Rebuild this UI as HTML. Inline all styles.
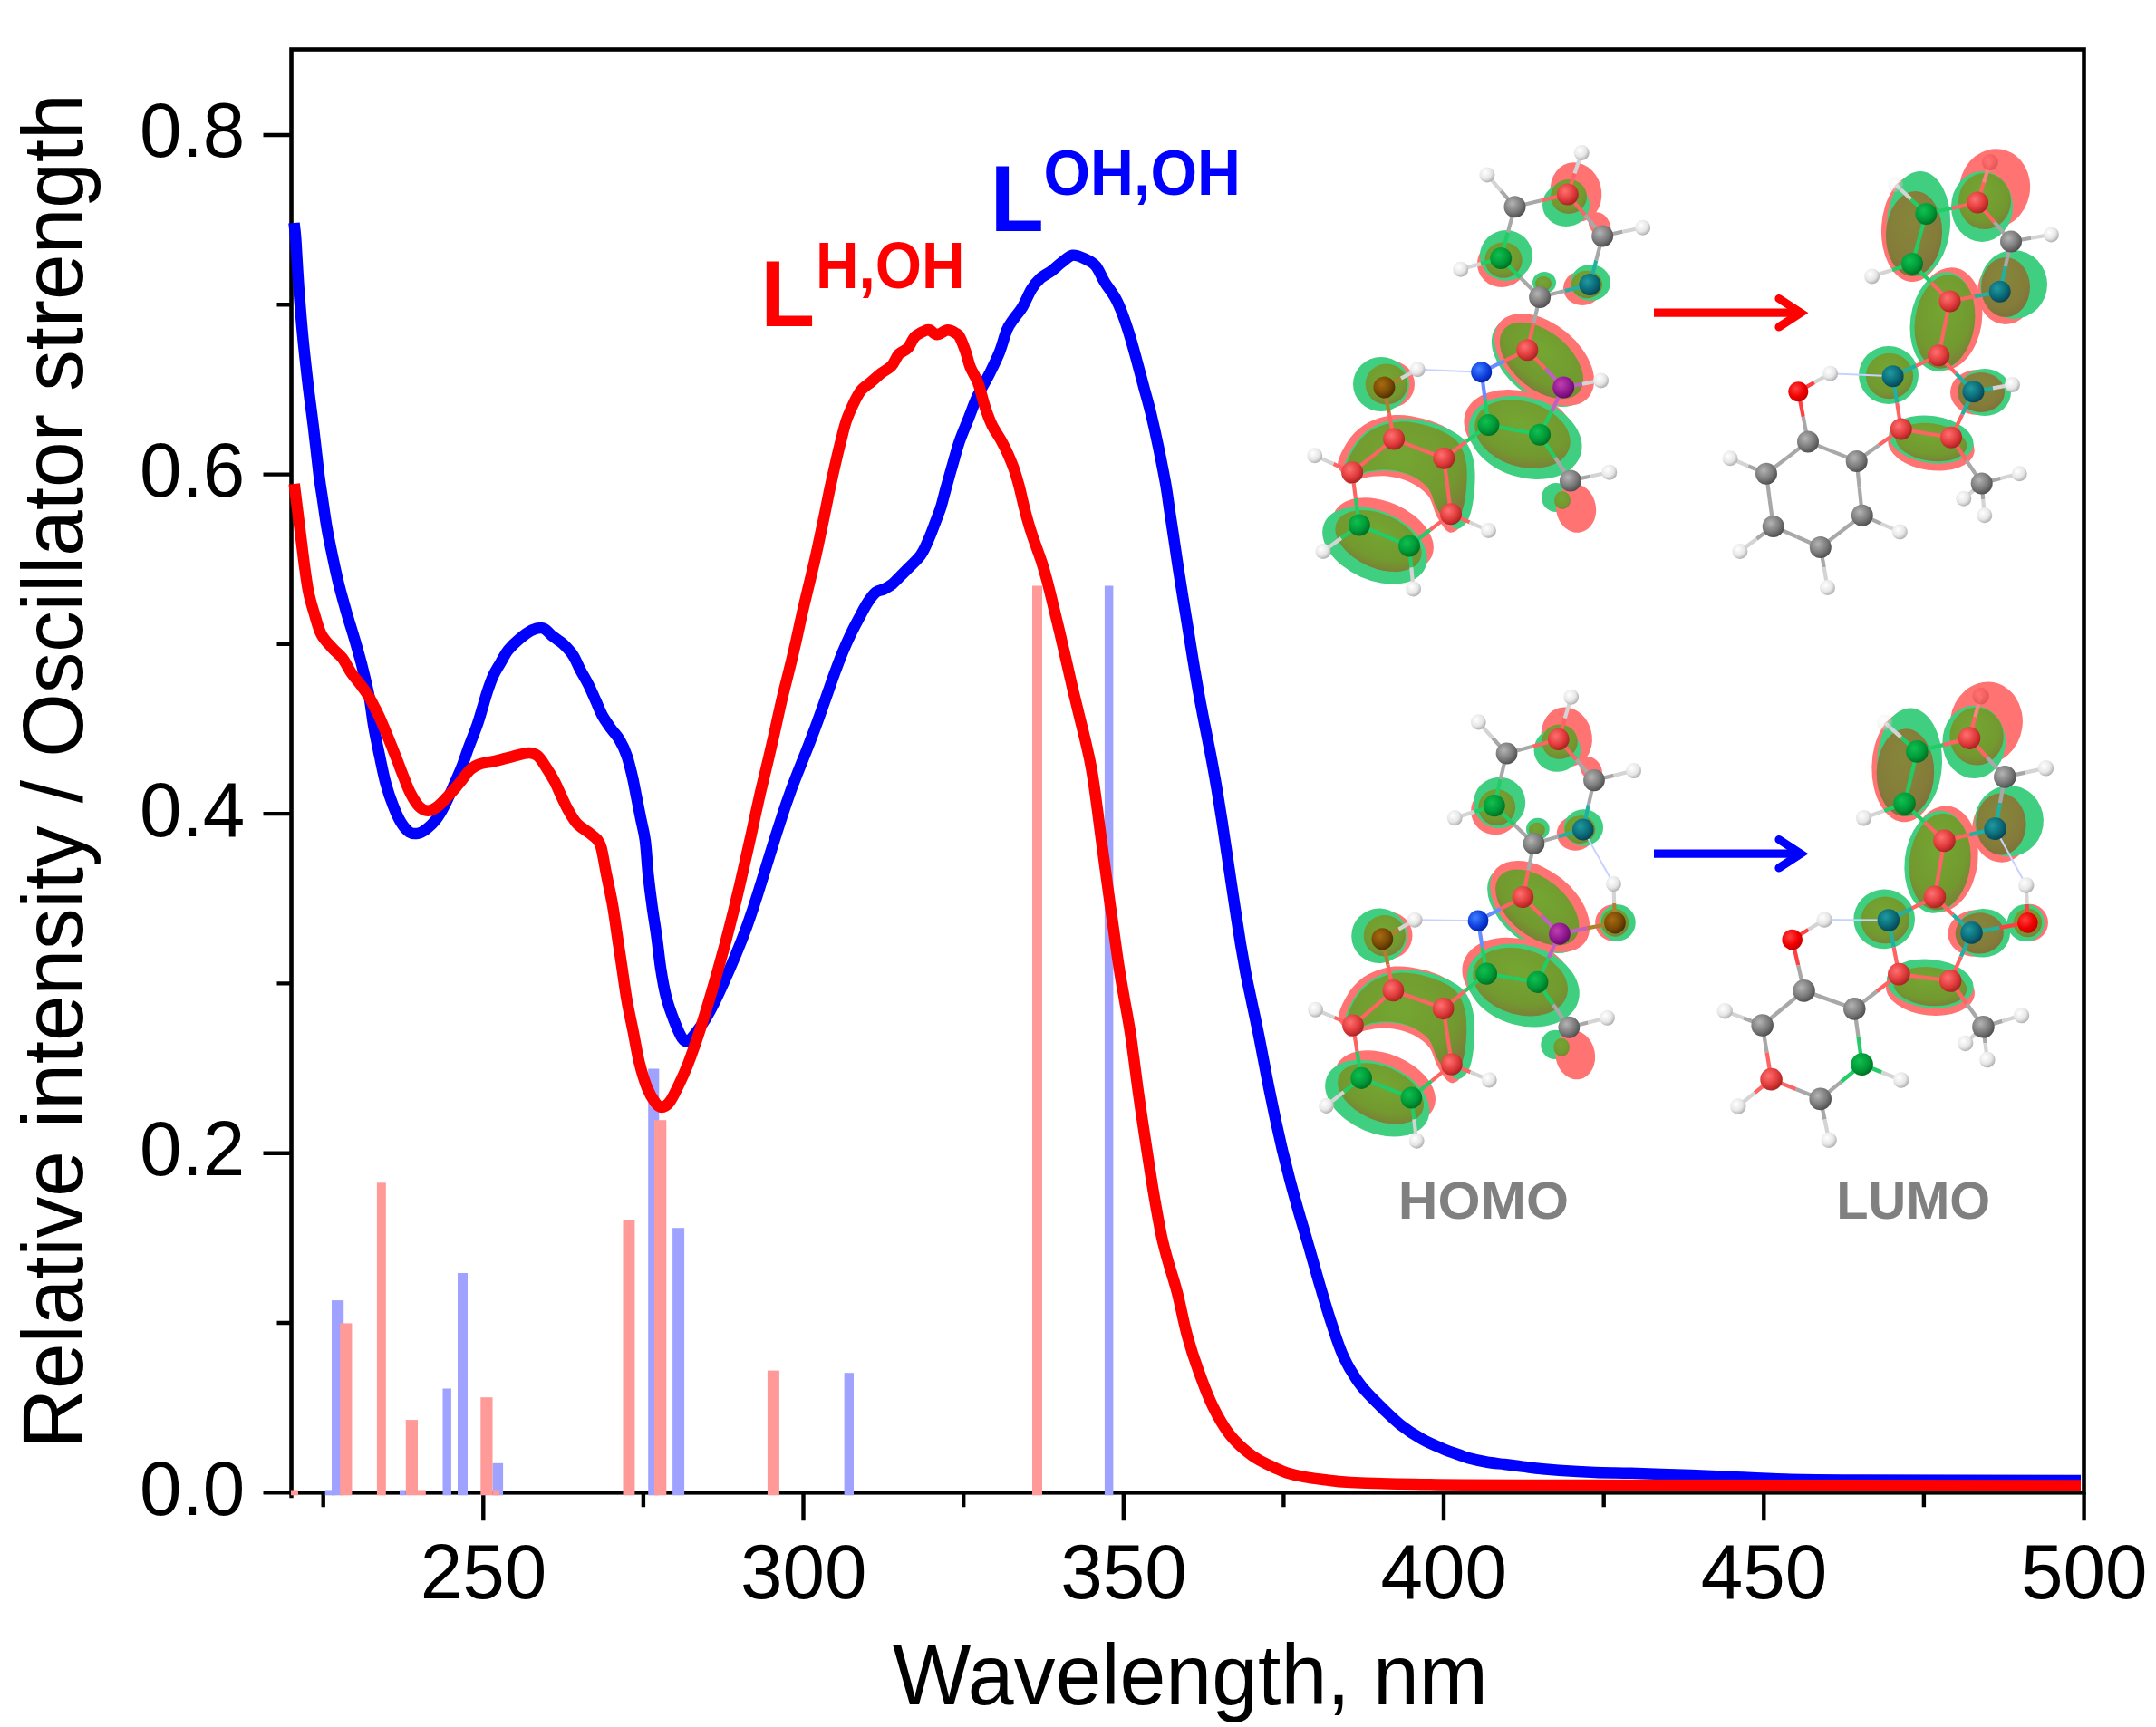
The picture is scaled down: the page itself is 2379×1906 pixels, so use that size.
<!DOCTYPE html><html><head><meta charset="utf-8"><title>Absorption spectra</title><style>html,body{margin:0;padding:0;background:#fff;}svg{display:block;}</style></head><body>
<svg width="2379" height="1906" viewBox="0 0 2379 1906">
<defs>
<radialGradient id="gC" cx="0.38" cy="0.35" r="0.7"><stop offset="0" stop-color="#b4b4b4"/><stop offset="0.6" stop-color="#7a7a7a"/><stop offset="1" stop-color="#4a4a4a"/></radialGradient>
<radialGradient id="gH" cx="0.38" cy="0.35" r="0.7"><stop offset="0" stop-color="#ffffff"/><stop offset="0.6" stop-color="#e6e6e6"/><stop offset="1" stop-color="#a8a8a8"/></radialGradient>
<radialGradient id="gR" cx="0.38" cy="0.35" r="0.7"><stop offset="0" stop-color="#ff7070"/><stop offset="0.6" stop-color="#e03a3a"/><stop offset="1" stop-color="#a02020"/></radialGradient>
<radialGradient id="gG" cx="0.38" cy="0.35" r="0.7"><stop offset="0" stop-color="#10c050"/><stop offset="0.6" stop-color="#009a38"/><stop offset="1" stop-color="#006a20"/></radialGradient>
<radialGradient id="gT" cx="0.38" cy="0.35" r="0.7"><stop offset="0" stop-color="#209aa0"/><stop offset="0.6" stop-color="#0a6a78"/><stop offset="1" stop-color="#064050"/></radialGradient>
<radialGradient id="gN" cx="0.38" cy="0.35" r="0.7"><stop offset="0" stop-color="#4080ff"/><stop offset="0.6" stop-color="#1040e0"/><stop offset="1" stop-color="#0020a0"/></radialGradient>
<radialGradient id="gP" cx="0.38" cy="0.35" r="0.7"><stop offset="0" stop-color="#c040b0"/><stop offset="0.6" stop-color="#901890"/><stop offset="1" stop-color="#600a60"/></radialGradient>
<radialGradient id="gB" cx="0.38" cy="0.35" r="0.7"><stop offset="0" stop-color="#a86a10"/><stop offset="0.6" stop-color="#7a4a05"/><stop offset="1" stop-color="#4a2a00"/></radialGradient>
<radialGradient id="gO" cx="0.38" cy="0.35" r="0.7"><stop offset="0" stop-color="#ff4040"/><stop offset="0.6" stop-color="#f00000"/><stop offset="1" stop-color="#c00000"/></radialGradient>
<radialGradient id="gL" cx="0.45" cy="0.35" r="0.75"><stop offset="0" stop-color="#74a632"/><stop offset="0.65" stop-color="#72992f"/><stop offset="1" stop-color="#80743a"/></radialGradient>
<radialGradient id="gL2" cx="0.45" cy="0.35" r="0.75"><stop offset="0" stop-color="#86863a"/><stop offset="0.65" stop-color="#847c3a"/><stop offset="1" stop-color="#7c6c38"/></radialGradient>
</defs>
<rect x="0" y="0" width="2379" height="1906" fill="#fff"/>
<rect x="321.5" y="54.5" width="1978.0" height="1592.8" fill="none" stroke="#000" stroke-width="4.6"/>
<path d="M290.5,1647.3H321.5 M290.5,1272.7H321.5 M290.5,898.1H321.5 M290.5,523.6H321.5 M290.5,149.0H321.5 M305.5,1460.0H321.5 M305.5,1085.4H321.5 M305.5,710.8H321.5 M305.5,336.3H321.5 M533.3,1647.3V1678.3 M886.5,1647.3V1678.3 M1239.8,1647.3V1678.3 M1593.0,1647.3V1678.3 M1946.3,1647.3V1678.3 M2299.6,1647.3V1678.3 M356.7,1647.3V1663.3 M709.9,1647.3V1663.3 M1063.2,1647.3V1663.3 M1416.4,1647.3V1663.3 M1769.7,1647.3V1663.3 M2122.9,1647.3V1663.3 M321.5,1647.3V1653.3" stroke="#000" stroke-width="4.4" fill="none"/>
<rect x="366.0" y="1435.1" width="13.2" height="215.2" fill="#a0a2ff"/>
<rect x="488.5" y="1532.5" width="9.4" height="117.8" fill="#a0a2ff"/>
<rect x="505.0" y="1405.0" width="11.0" height="245.3" fill="#a0a2ff"/>
<rect x="543.5" y="1614.8" width="11.6" height="35.5" fill="#a0a2ff"/>
<rect x="715.2" y="1179.5" width="12.1" height="470.8" fill="#a0a2ff"/>
<rect x="742.1" y="1355.2" width="13.0" height="295.1" fill="#a0a2ff"/>
<rect x="931.6" y="1515.2" width="10.4" height="135.1" fill="#a0a2ff"/>
<rect x="1218.9" y="646.5" width="9.5" height="1003.8" fill="#a0a2ff"/>
<rect x="358.7" y="1644.5" width="11.0" height="5.8" fill="#a0a2ff"/>
<rect x="441.0" y="1644.5" width="6.8" height="5.8" fill="#a0a2ff"/>
<rect x="375.2" y="1460.4" width="13.2" height="189.9" fill="#ff9a98"/>
<rect x="415.9" y="1305.3" width="9.9" height="345.0" fill="#ff9a98"/>
<rect x="447.8" y="1567.1" width="13.2" height="83.2" fill="#ff9a98"/>
<rect x="530.3" y="1542.2" width="13.2" height="108.1" fill="#ff9a98"/>
<rect x="687.5" y="1346.3" width="12.9" height="304.0" fill="#ff9a98"/>
<rect x="722.0" y="1236.2" width="13.3" height="414.1" fill="#ff9a98"/>
<rect x="846.9" y="1512.6" width="13.0" height="137.7" fill="#ff9a98"/>
<rect x="1139.0" y="646.5" width="11.0" height="1003.8" fill="#ff9a98"/>
<rect x="461.0" y="1644.5" width="8.8" height="5.8" fill="#ff9a98"/>
<rect x="543.5" y="1644.5" width="7.5" height="5.8" fill="#ff9a98"/>
<rect x="321.0" y="1644.5" width="8.0" height="5.8" fill="#ff9a98"/>
<path d="M324.5,246.0 C324.8,249.1 325.5,252.9 326.4,264.7 C327.2,276.5 328.4,299.5 329.6,316.9 C330.9,334.3 332.2,351.6 333.9,369.0 C335.5,386.4 337.5,403.7 339.5,421.1 C341.5,438.5 344.0,455.8 346.1,473.2 C348.2,490.6 350.5,512.3 352.1,525.3 C353.8,538.3 354.6,541.8 356.0,551.3 C357.4,560.8 358.9,572.1 360.7,582.5 C362.5,592.9 364.7,603.4 366.9,613.8 C369.1,624.2 371.3,634.7 373.9,645.1 C376.5,655.5 379.5,666.0 382.5,676.4 C385.5,686.8 388.9,697.2 391.9,707.6 C394.9,718.0 397.9,728.5 400.5,738.9 C403.1,749.3 405.6,759.6 407.6,770.2 C409.6,780.8 410.6,791.9 412.5,802.5 C414.4,813.1 416.6,823.4 418.8,833.8 C421.0,844.2 423.3,856.0 425.8,865.1 C428.3,874.2 430.9,881.6 433.6,888.6 C436.3,895.6 439.2,902.3 442.2,907.3 C445.2,912.2 448.5,916.2 451.6,918.3 C454.7,920.4 457.9,920.3 461.0,919.8 C464.1,919.3 467.0,917.7 470.4,915.1 C473.8,912.5 477.9,908.6 481.3,904.2 C484.7,899.8 487.6,894.6 490.7,888.6 C493.8,882.6 497.0,875.2 500.1,868.2 C503.2,861.2 506.6,853.6 509.5,846.3 C512.4,839.0 514.4,832.1 517.3,824.4 C520.1,816.7 524.1,807.2 526.6,800.0 C529.1,792.8 530.6,787.1 532.4,781.1 C534.2,775.1 535.7,769.5 537.6,763.7 C539.5,757.9 541.6,751.6 544.0,746.3 C546.4,741.0 549.3,736.6 552.1,731.8 C554.9,727.0 557.4,721.7 560.8,717.4 C564.2,713.1 568.0,709.4 572.4,705.8 C576.8,702.1 582.4,697.5 586.9,695.5 C591.4,693.5 595.8,692.5 599.4,693.5 C603.0,694.5 605.1,698.4 608.8,701.3 C612.4,704.2 617.4,707.1 621.3,710.7 C625.2,714.4 629.2,718.5 632.3,723.2 C635.4,727.9 637.2,733.3 640.1,738.8 C643.0,744.3 646.6,750.3 649.5,756.0 C652.4,761.7 654.7,767.5 657.3,773.2 C659.9,778.9 662.2,785.2 665.1,790.4 C668.0,795.6 671.4,800.1 674.5,804.5 C677.6,808.9 681.0,812.0 683.9,817.0 C686.8,822.0 689.4,827.4 691.7,834.2 C694.0,841.0 696.1,849.8 697.9,857.6 C699.7,865.4 701.0,873.3 702.6,881.1 C704.2,888.9 705.7,896.8 707.3,904.6 C708.9,912.4 710.7,918.0 712.0,928.0 C713.3,938.0 714.0,952.9 715.2,964.8 C716.5,976.7 717.9,987.9 719.5,999.5 C721.1,1011.1 723.1,1022.7 724.7,1034.3 C726.3,1045.9 727.4,1058.0 729.1,1069.0 C730.8,1080.0 732.7,1090.8 735.1,1100.3 C737.5,1109.8 740.9,1118.8 743.8,1126.3 C746.7,1133.8 749.9,1141.7 752.5,1145.5 C755.1,1149.3 756.8,1150.1 759.5,1148.9 C762.2,1147.7 765.6,1142.6 768.8,1138.5 C772.0,1134.4 775.3,1129.7 778.7,1124.2 C782.1,1118.6 785.6,1112.0 789.0,1105.0 C792.5,1098.1 796.0,1090.3 799.4,1082.6 C802.9,1074.9 806.4,1066.8 809.8,1058.7 C813.1,1050.7 816.5,1042.7 819.7,1034.3 C822.9,1025.9 826.0,1017.3 829.0,1008.3 C832.1,999.3 835.1,989.6 838.1,980.1 C841.1,970.7 844.1,960.8 847.0,951.4 C849.9,942.0 852.8,932.6 855.6,923.7 C858.5,914.7 861.2,906.0 863.9,897.8 C866.6,889.5 869.3,881.8 872.0,874.3 C874.7,866.9 877.4,860.1 880.1,853.1 C882.8,846.1 885.5,839.6 888.3,832.5 C891.1,825.5 893.9,818.2 896.7,810.7 C899.6,803.3 902.5,795.3 905.2,787.6 C908.0,779.9 910.7,772.0 913.4,764.4 C916.1,756.7 918.7,749.1 921.4,741.7 C924.2,734.2 926.9,726.8 929.8,719.9 C932.7,712.9 935.7,706.2 938.7,699.9 C941.7,693.6 944.8,687.7 947.9,682.0 C951.0,676.2 954.1,669.9 957.2,665.2 C960.3,660.5 963.3,656.1 966.4,653.6 C969.5,651.1 972.6,651.7 975.7,650.1 C978.8,648.5 981.9,646.8 985.0,644.3 C988.1,641.8 991.7,637.6 994.2,635.1 C996.7,632.6 996.5,632.9 1000.0,629.3 C1003.5,625.6 1011.5,618.5 1015.5,613.2 C1019.5,607.9 1021.1,603.1 1023.8,597.3 C1026.5,591.5 1029.0,584.6 1031.4,578.2 C1033.8,571.8 1036.4,565.5 1038.4,559.1 C1040.4,552.7 1041.4,547.7 1043.5,540.0 C1045.6,532.3 1048.5,522.0 1051.1,513.0 C1053.7,504.0 1056.2,494.4 1059.2,485.8 C1062.2,477.2 1065.7,469.6 1068.9,461.5 C1072.1,453.4 1074.8,445.3 1078.6,437.2 C1082.4,429.1 1087.5,421.0 1091.6,412.9 C1095.6,404.8 1099.7,396.7 1102.9,388.6 C1106.1,380.5 1108.4,370.4 1111.0,364.3 C1113.6,358.2 1115.6,356.3 1118.5,352.0 C1121.4,347.7 1125.0,344.2 1128.3,338.7 C1131.6,333.2 1134.9,324.4 1138.2,319.1 C1141.5,313.9 1144.4,310.5 1148.0,307.2 C1151.6,303.9 1155.8,302.3 1159.8,299.4 C1163.8,296.4 1167.8,292.4 1171.7,289.5 C1175.7,286.6 1179.2,282.3 1183.5,281.7 C1187.8,281.1 1192.9,283.6 1197.2,285.6 C1201.5,287.6 1205.5,289.2 1209.1,293.5 C1212.7,297.8 1215.3,305.3 1218.9,311.2 C1222.5,317.1 1227.4,323.0 1230.7,328.9 C1234.0,334.8 1236.0,339.7 1238.6,346.6 C1241.2,353.5 1243.9,361.7 1246.5,370.2 C1249.1,378.7 1251.7,388.3 1254.3,397.8 C1256.9,407.3 1259.6,417.5 1262.2,427.3 C1264.8,437.1 1267.5,446.1 1270.1,456.9 C1272.7,467.7 1275.4,479.8 1278.0,492.3 C1280.6,504.8 1283.7,520.2 1285.8,531.7 C1287.9,543.2 1288.8,551.0 1290.3,561.3 C1291.9,571.6 1293.6,582.6 1295.2,593.6 C1296.8,604.6 1298.5,616.0 1300.2,627.2 C1301.9,638.4 1303.7,649.6 1305.5,660.8 C1307.3,672.0 1309.2,683.2 1311.0,694.4 C1312.8,705.6 1314.6,716.8 1316.4,728.0 C1318.3,739.2 1320.1,750.4 1322.1,761.6 C1324.1,772.8 1326.3,784.5 1328.4,795.2 C1330.5,805.9 1332.7,816.5 1334.5,825.7 C1336.3,834.9 1337.7,842.2 1339.2,850.6 C1340.7,859.0 1342.1,866.7 1343.6,876.1 C1345.2,885.5 1346.9,896.4 1348.6,907.2 C1350.2,918.0 1351.9,929.6 1353.6,940.8 C1355.3,952.0 1356.9,963.2 1358.6,974.4 C1360.3,985.6 1362.0,996.8 1363.7,1008.0 C1365.4,1019.2 1367.1,1030.6 1368.9,1041.6 C1370.8,1052.6 1372.7,1063.6 1374.6,1074.0 C1376.6,1084.4 1378.8,1094.1 1380.9,1104.2 C1383.0,1114.3 1385.2,1124.1 1387.3,1134.6 C1389.5,1145.1 1391.6,1156.2 1393.7,1167.2 C1395.8,1178.2 1398.0,1189.6 1400.2,1200.8 C1402.5,1212.0 1404.8,1223.2 1407.2,1234.4 C1409.6,1245.6 1412.1,1256.8 1414.7,1268.0 C1417.4,1279.2 1420.2,1290.4 1423.1,1301.6 C1426.1,1312.8 1429.4,1324.8 1432.4,1335.2 C1435.3,1345.6 1438.3,1355.2 1440.9,1364.2 C1443.5,1373.2 1445.4,1379.7 1448.0,1389.0 C1450.7,1398.3 1453.5,1408.6 1456.9,1420.1 C1460.3,1431.6 1464.2,1445.3 1468.5,1458.2 C1472.8,1471.1 1477.0,1485.6 1482.5,1497.3 C1488.0,1509.0 1494.5,1519.5 1501.3,1528.6 C1508.1,1537.7 1515.9,1544.7 1523.2,1552.0 C1530.5,1559.3 1537.5,1566.3 1545.1,1572.3 C1552.7,1578.3 1560.8,1583.6 1568.6,1588.0 C1576.4,1592.4 1585.1,1596.0 1592.0,1598.9 C1598.9,1601.8 1605.3,1603.8 1610.0,1605.5 C1614.7,1607.2 1615.0,1607.8 1620.0,1609.1 C1625.0,1610.4 1633.3,1612.3 1640.0,1613.5 C1646.7,1614.7 1653.3,1615.2 1660.0,1616.0 C1666.7,1616.8 1673.3,1617.8 1680.0,1618.6 C1686.7,1619.4 1693.3,1620.3 1700.0,1621.0 C1706.7,1621.7 1710.0,1622.1 1720.0,1622.8 C1730.0,1623.5 1746.7,1624.5 1760.0,1625.0 C1773.3,1625.5 1785.0,1625.4 1800.0,1625.8 C1815.0,1626.2 1833.3,1626.9 1850.0,1627.5 C1866.7,1628.1 1880.0,1628.7 1900.0,1629.5 C1920.0,1630.3 1945.0,1631.8 1970.0,1632.5 C1995.0,1633.2 1995.7,1633.2 2050.0,1633.5 C2104.3,1633.8 2255.0,1633.9 2296.0,1634.0" fill="none" stroke="#0000ff" stroke-width="12.5" stroke-linejoin="round" stroke-linecap="butt"/>
<path d="M324.7,534.0 C325.2,538.2 326.6,549.7 327.8,559.1 C329.0,568.5 330.4,580.0 331.7,590.4 C333.0,600.8 334.2,611.2 335.6,621.6 C337.0,632.0 338.5,643.8 340.3,652.9 C342.1,662.0 344.2,668.6 346.6,676.4 C349.0,684.2 351.0,693.3 354.4,699.8 C357.8,706.3 363.0,711.1 366.9,715.5 C370.8,719.9 374.5,722.0 377.9,726.4 C381.3,730.8 383.8,737.0 387.2,742.0 C390.6,747.0 395.1,751.9 398.2,756.1 C401.3,760.3 403.6,763.3 406.0,767.1 C408.4,770.9 410.4,774.9 412.5,779.0 C414.6,783.1 416.2,785.9 418.8,791.6 C421.4,797.4 425.0,805.9 428.1,813.5 C431.2,821.1 434.6,829.7 437.5,837.0 C440.4,844.3 442.7,850.8 445.3,857.3 C447.9,863.8 450.3,870.5 453.2,876.0 C456.1,881.5 459.4,887.0 462.5,890.1 C465.6,893.2 468.5,894.8 471.9,894.8 C475.3,894.8 479.2,892.7 482.9,890.1 C486.5,887.5 489.9,883.4 493.8,879.2 C497.7,875.0 502.1,870.1 506.3,865.1 C510.5,860.1 514.9,853.1 518.8,849.5 C522.7,845.9 525.4,844.8 529.8,843.2 C534.2,841.6 539.4,841.5 545.4,840.1 C551.4,838.7 559.7,836.3 566.0,834.8 C572.3,833.3 578.9,831.1 583.4,831.0 C587.9,830.9 590.0,831.6 593.2,834.2 C596.4,836.8 599.4,842.0 602.5,846.7 C605.6,851.4 609.0,856.8 611.9,862.3 C614.8,867.8 617.2,874.0 619.8,879.5 C622.4,885.0 624.7,890.2 627.6,895.2 C630.5,900.2 633.4,905.4 637.0,909.3 C640.6,913.2 645.9,915.7 649.5,918.6 C653.1,921.5 656.5,923.6 658.8,926.5 C661.1,929.4 661.8,929.4 663.5,935.8 C665.2,942.2 667.0,954.2 669.1,964.8 C671.2,975.4 674.1,987.9 676.1,999.5 C678.1,1011.1 679.6,1022.7 681.3,1034.3 C683.0,1045.9 684.8,1057.4 686.5,1069.0 C688.2,1080.6 689.7,1092.2 691.7,1103.8 C693.7,1115.4 696.4,1126.9 698.7,1138.5 C701.0,1150.1 703.0,1162.9 705.6,1173.3 C708.2,1183.7 711.4,1193.9 714.3,1201.1 C717.2,1208.3 720.4,1213.2 723.0,1216.7 C725.6,1220.2 727.3,1221.9 729.9,1221.9 C732.5,1221.9 735.4,1220.8 738.6,1216.7 C741.8,1212.6 745.6,1204.6 749.0,1197.4 C752.5,1190.2 756.0,1182.3 759.5,1173.5 C762.9,1164.6 766.4,1154.6 769.9,1144.3 C773.4,1133.9 776.8,1122.8 780.3,1111.3 C783.8,1099.9 787.3,1087.8 790.7,1075.8 C794.1,1063.7 797.7,1050.9 800.8,1039.2 C803.8,1027.6 806.7,1016.2 809.3,1005.9 C811.8,995.6 813.9,986.6 816.1,977.4 C818.2,968.2 820.2,959.6 822.2,950.7 C824.2,941.7 826.3,932.5 828.3,923.7 C830.2,914.9 832.1,906.0 833.9,897.8 C835.7,889.5 837.4,881.8 839.1,874.3 C840.9,866.7 842.6,859.7 844.3,852.7 C846.0,845.6 847.7,838.7 849.3,831.7 C850.9,824.8 852.5,817.8 854.1,810.9 C855.6,804.0 857.1,797.1 858.6,790.3 C860.1,783.5 861.6,776.8 863.2,770.1 C864.8,763.3 866.5,756.7 868.2,750.0 C869.9,743.3 871.6,736.6 873.3,729.6 C875.0,722.5 876.7,715.2 878.4,707.6 C880.1,700.1 881.8,692.0 883.5,684.2 C885.3,676.3 887.1,668.4 889.0,660.6 C890.8,652.9 892.7,645.3 894.5,637.7 C896.3,630.1 898.1,622.7 899.8,615.1 C901.5,607.6 903.1,600.2 904.7,592.4 C906.4,584.7 908.0,577.0 909.7,568.7 C911.4,560.5 913.1,551.8 914.9,543.0 C916.8,534.3 918.7,525.0 920.8,516.1 C922.8,507.3 924.9,498.6 927.0,490.1 C929.2,481.7 931.1,472.8 933.5,465.4 C935.9,458.0 938.9,451.6 941.6,445.9 C944.3,440.2 946.5,435.4 949.7,431.3 C953.0,427.2 957.3,424.8 961.1,421.6 C964.9,418.4 968.6,414.9 972.4,411.9 C976.2,408.9 980.5,407.3 983.8,403.8 C987.0,400.3 988.9,394.1 991.9,390.8 C994.9,387.6 998.6,387.5 1001.6,384.3 C1004.6,381.1 1006.5,374.6 1009.7,371.4 C1013.0,368.2 1018.4,366.1 1021.1,364.9 C1023.8,363.7 1023.9,363.6 1026.0,364.3 C1028.1,365.0 1030.6,369.3 1033.9,369.3 C1037.2,369.3 1042.1,364.5 1045.7,364.3 C1049.3,364.1 1053.2,367.0 1055.5,368.3 C1057.8,369.6 1057.5,369.0 1059.2,372.4 C1060.9,375.8 1063.8,383.2 1065.7,388.6 C1067.6,394.0 1068.3,399.4 1070.5,404.8 C1072.7,410.2 1076.4,415.6 1078.6,421.0 C1080.8,426.4 1081.9,431.8 1083.5,437.2 C1085.1,442.6 1086.4,448.0 1088.3,453.4 C1090.2,458.8 1092.1,464.2 1094.8,469.6 C1097.5,475.0 1101.5,480.4 1104.5,485.8 C1107.5,491.2 1110.2,496.6 1112.6,502.0 C1115.0,507.4 1117.2,512.9 1119.1,518.3 C1121.0,523.7 1122.6,529.6 1124.0,534.5 C1125.4,539.4 1126.2,543.2 1127.2,547.6 C1128.3,552.0 1129.2,556.3 1130.4,560.9 C1131.5,565.5 1132.8,570.4 1134.2,575.3 C1135.6,580.2 1137.1,585.2 1138.8,590.1 C1140.4,595.1 1142.2,599.8 1144.0,605.0 C1145.9,610.2 1147.9,615.5 1149.8,621.5 C1151.7,627.5 1153.4,633.6 1155.3,640.7 C1157.2,647.8 1159.0,655.3 1161.2,664.2 C1163.4,673.2 1166.0,683.8 1168.5,694.4 C1171.0,705.0 1173.7,716.8 1176.3,728.0 C1178.9,739.2 1181.4,750.4 1184.0,761.6 C1186.7,772.8 1189.6,784.7 1192.2,795.2 C1194.8,805.7 1197.3,815.6 1199.3,824.5 C1201.4,833.3 1202.8,839.7 1204.3,848.1 C1205.8,856.5 1207.0,865.0 1208.4,874.8 C1209.8,884.7 1211.3,896.2 1212.7,907.2 C1214.1,918.2 1215.6,929.6 1217.1,940.8 C1218.6,952.0 1220.2,963.2 1221.7,974.4 C1223.2,985.6 1224.8,996.8 1226.3,1008.0 C1227.9,1019.2 1229.4,1030.6 1231.0,1041.6 C1232.5,1052.6 1234.1,1063.6 1235.8,1074.0 C1237.4,1084.4 1239.3,1094.1 1241.0,1104.2 C1242.8,1114.3 1244.7,1124.1 1246.4,1134.6 C1248.1,1145.1 1249.5,1156.2 1251.0,1167.2 C1252.5,1178.2 1253.9,1189.6 1255.4,1200.8 C1256.9,1212.0 1258.6,1223.2 1260.2,1234.4 C1261.9,1245.6 1263.6,1256.8 1265.3,1268.0 C1267.0,1279.2 1268.7,1290.4 1270.5,1301.6 C1272.3,1312.8 1274.3,1324.7 1276.2,1335.2 C1278.1,1345.7 1279.8,1355.2 1281.8,1364.7 C1283.9,1374.2 1285.9,1381.6 1288.8,1391.9 C1291.7,1402.3 1295.6,1413.3 1299.1,1426.9 C1302.6,1440.5 1306.1,1459.5 1310.0,1473.8 C1313.9,1488.1 1317.8,1499.9 1322.5,1512.9 C1327.2,1525.9 1332.5,1540.3 1338.2,1552.0 C1344.0,1563.7 1349.7,1574.2 1357.0,1583.3 C1364.3,1592.4 1373.4,1600.5 1382.0,1606.7 C1390.6,1613.0 1402.3,1617.7 1408.6,1620.8 C1414.9,1623.9 1414.8,1623.9 1420.0,1625.5 C1425.2,1627.1 1433.1,1629.0 1439.8,1630.2 C1446.5,1631.5 1451.6,1632.0 1460.0,1633.0 C1468.4,1634.0 1473.3,1635.2 1490.0,1636.0 C1506.7,1636.8 1525.0,1637.5 1560.0,1638.0 C1595.0,1638.5 1577.3,1638.8 1700.0,1639.0 C1822.7,1639.2 2196.7,1639.4 2296.0,1639.5" fill="none" stroke="#ff0000" stroke-width="12.5" stroke-linejoin="round" stroke-linecap="butt"/>
<g transform="translate(0,0)"><ellipse cx="1739.0" cy="212.0" rx="28.0" ry="33.0" fill="#ff7373" transform="rotate(-15.0 1739.0 212.0)"/><ellipse cx="1765.0" cy="248.0" rx="11.0" ry="15.0" fill="#ff7373" transform="rotate(-35.0 1765.0 248.0)"/><ellipse cx="1728.0" cy="226.0" rx="26.0" ry="24.0" fill="#40cf80"/><ellipse cx="1731.0" cy="217.0" rx="20.0" ry="19.0" fill="url(#gL)"/><ellipse cx="1657.0" cy="291.0" rx="27.0" ry="26.0" fill="#ff7373"/><ellipse cx="1662.0" cy="282.0" rx="29.0" ry="28.0" fill="#40cf80"/><ellipse cx="1659.0" cy="287.0" rx="20.7" ry="19.8" fill="url(#gL)"/><ellipse cx="1703.0" cy="313.0" rx="10.0" ry="9.0" fill="#ff7373"/><ellipse cx="1704.0" cy="312.0" rx="13.0" ry="12.0" fill="#40cf80"/><ellipse cx="1703.0" cy="313.0" rx="9.0" ry="8.1" fill="url(#gL)"/><ellipse cx="1746.0" cy="318.0" rx="21.0" ry="19.0" fill="#ff7373"/><ellipse cx="1755.0" cy="312.0" rx="22.0" ry="20.0" fill="#40cf80"/><ellipse cx="1751.0" cy="314.0" rx="17.1" ry="15.3" fill="url(#gL)"/><ellipse cx="1699.0" cy="400.0" rx="62.0" ry="37.0" fill="#40cf80" transform="rotate(40.0 1699.0 400.0)"/><ellipse cx="1704.0" cy="397.0" rx="64.0" ry="39.0" fill="#ff7373" transform="rotate(40.0 1704.0 397.0)"/><ellipse cx="1701.0" cy="398.0" rx="54.0" ry="31.5" fill="url(#gL)" transform="rotate(40.0 1701.0 398.0)"/><ellipse cx="1534.0" cy="424.0" rx="27.0" ry="26.0" fill="#ff7373"/><ellipse cx="1524.0" cy="424.0" rx="31.0" ry="30.0" fill="#40cf80"/><ellipse cx="1530.0" cy="424.0" rx="23.4" ry="22.5" fill="url(#gL)"/><ellipse cx="1677.0" cy="475.0" rx="63.0" ry="43.0" fill="#ff7373" transform="rotate(17.0 1677.0 475.0)"/><ellipse cx="1683.0" cy="483.0" rx="64.0" ry="44.0" fill="#40cf80" transform="rotate(17.0 1683.0 483.0)"/><ellipse cx="1680.0" cy="479.0" rx="54.0" ry="36.0" fill="url(#gL)" transform="rotate(17.0 1680.0 479.0)"/><path d="M1476.3,510.5 C1477.2,503.7 1484.4,490.5 1490.1,483.0 C1495.9,475.6 1502.4,470.0 1510.7,465.8 C1519.1,461.7 1530.0,458.7 1540.0,458.1 C1550.0,457.5 1561.5,459.9 1571.0,462.3 C1580.5,464.7 1589.9,468.6 1596.7,472.6 C1603.6,476.6 1608.4,480.1 1612.3,486.4 C1616.2,492.7 1618.9,500.8 1620.0,510.5 C1621.2,520.3 1620.4,534.9 1619.1,544.9 C1617.8,554.9 1615.7,564.9 1612.3,570.7 C1608.9,576.4 1603.1,580.8 1598.5,579.3 C1593.9,577.9 1588.7,569.0 1584.7,562.1 C1580.7,555.2 1579.5,544.6 1574.4,538.0 C1569.2,531.4 1561.5,526.3 1553.8,522.6 C1546.1,518.8 1536.5,516.5 1527.9,515.7 C1519.3,514.8 1509.4,516.0 1502.2,517.4 C1495.0,518.8 1489.3,525.4 1485.0,524.2 C1480.7,523.1 1475.5,517.4 1476.3,510.5Z" fill="#ff7373"/><path d="M1480.7,520.6 C1481.5,513.9 1488.5,501.1 1494.1,493.9 C1499.7,486.7 1506.0,481.2 1514.1,477.2 C1522.2,473.2 1532.8,470.3 1542.5,469.7 C1552.2,469.1 1563.4,471.4 1572.6,473.8 C1581.8,476.2 1590.9,479.9 1597.6,483.8 C1604.3,487.7 1608.9,491.1 1612.7,497.2 C1616.5,503.3 1619.1,511.1 1620.2,520.6 C1621.3,530.1 1620.5,544.3 1619.3,554.0 C1618.0,563.7 1616.0,573.4 1612.7,579.0 C1609.4,584.6 1603.8,588.8 1599.3,587.4 C1594.8,586.0 1589.8,577.4 1585.9,570.7 C1582.0,564.0 1580.9,553.7 1575.9,547.3 C1570.9,540.9 1563.4,535.9 1555.9,532.3 C1548.4,528.7 1539.2,526.4 1530.8,525.6 C1522.4,524.8 1512.8,525.9 1505.8,527.3 C1498.8,528.7 1493.3,535.0 1489.1,533.9 C1484.9,532.8 1479.9,527.3 1480.7,520.6Z" fill="#ff7373"/><path d="M1483.3,514.5 C1484.2,507.7 1491.4,494.5 1497.1,487.0 C1502.9,479.6 1509.4,474.0 1517.7,469.8 C1526.1,465.7 1537.0,462.7 1547.0,462.1 C1557.0,461.5 1568.5,463.9 1578.0,466.3 C1587.5,468.7 1596.9,472.6 1603.7,476.6 C1610.6,480.6 1615.4,484.1 1619.3,490.4 C1623.2,496.7 1625.9,504.8 1627.0,514.5 C1628.2,524.3 1627.4,538.9 1626.1,548.9 C1624.8,558.9 1622.7,568.9 1619.3,574.7 C1615.9,580.4 1610.1,584.8 1605.5,583.3 C1600.9,581.9 1595.7,573.0 1591.7,566.1 C1587.7,559.2 1586.5,548.6 1581.4,542.0 C1576.2,535.4 1568.5,530.3 1560.8,526.6 C1553.1,522.8 1543.5,520.5 1534.9,519.7 C1526.3,518.8 1516.4,520.0 1509.2,521.4 C1502.0,522.8 1496.3,529.4 1492.0,528.2 C1487.7,527.1 1482.5,521.4 1483.3,514.5Z" fill="#40cf80"/><path d="M1485.6,513.7 C1486.4,507.4 1493.1,495.2 1498.4,488.4 C1503.7,481.5 1509.7,476.3 1517.4,472.5 C1525.0,468.7 1535.1,465.9 1544.3,465.4 C1553.6,464.8 1564.2,467.0 1572.9,469.3 C1581.7,471.5 1590.3,475.1 1596.7,478.8 C1603.0,482.5 1607.5,485.7 1611.0,491.5 C1614.6,497.3 1617.1,504.7 1618.2,513.7 C1619.2,522.7 1618.5,536.2 1617.3,545.5 C1616.1,554.7 1614.2,563.9 1611.0,569.2 C1607.9,574.5 1602.5,578.5 1598.3,577.2 C1594.1,575.9 1589.3,567.7 1585.6,561.3 C1581.9,555.0 1580.8,545.2 1576.1,539.1 C1571.3,533.0 1564.2,528.3 1557.1,524.8 C1549.9,521.4 1541.2,519.3 1533.2,518.5 C1525.3,517.7 1516.1,518.8 1509.5,520.1 C1502.9,521.4 1497.6,527.4 1493.6,526.4 C1489.6,525.3 1484.8,520.1 1485.6,513.7Z" fill="url(#gL)"/><ellipse cx="1526.0" cy="590.0" rx="59.0" ry="36.0" fill="#ff7373" transform="rotate(24.0 1526.0 590.0)"/><ellipse cx="1517.0" cy="602.0" rx="61.0" ry="38.0" fill="#40cf80" transform="rotate(24.0 1517.0 602.0)"/><ellipse cx="1521.0" cy="597.0" rx="50.4" ry="29.7" fill="url(#gL)" transform="rotate(24.0 1521.0 597.0)"/><ellipse cx="1717.0" cy="549.0" rx="16.0" ry="16.0" fill="#40cf80"/><ellipse cx="1739.0" cy="561.0" rx="22.0" ry="27.0" fill="#ff7373" transform="rotate(-10.0 1739.0 561.0)"/><ellipse cx="1724.0" cy="552.0" rx="9.0" ry="10.0" fill="url(#gL)"/><line x1="1634.7" y1="410.7" x2="1564.2" y2="407.7" stroke="#c8d2ff" stroke-width="2"/><line x1="1671.5" y1="228.2" x2="1656.2" y2="210.6" stroke="#a8a8a8" stroke-width="4.2"/><line x1="1656.2" y1="210.6" x2="1640.9" y2="192.9" stroke="#d4d4d4" stroke-width="4.2"/><line x1="1671.5" y1="228.2" x2="1700.7" y2="221.3" stroke="#a8a8a8" stroke-width="4.2"/><line x1="1700.7" y1="221.3" x2="1729.8" y2="214.4" stroke="#ff6464" stroke-width="4.2"/><line x1="1729.8" y1="214.4" x2="1749.0" y2="237.4" stroke="#ff6464" stroke-width="4.2"/><line x1="1749.0" y1="237.4" x2="1768.2" y2="260.4" stroke="#a8a8a8" stroke-width="4.2"/><line x1="1729.8" y1="214.4" x2="1737.5" y2="191.4" stroke="#ff6464" stroke-width="4.2"/><line x1="1737.5" y1="191.4" x2="1745.2" y2="168.4" stroke="#d4d4d4" stroke-width="4.2"/><line x1="1768.2" y1="260.4" x2="1790.4" y2="255.8" stroke="#a8a8a8" stroke-width="4.2"/><line x1="1790.4" y1="255.8" x2="1812.6" y2="251.2" stroke="#d4d4d4" stroke-width="4.2"/><line x1="1671.5" y1="228.2" x2="1663.8" y2="256.6" stroke="#a8a8a8" stroke-width="4.2"/><line x1="1663.8" y1="256.6" x2="1656.2" y2="285.0" stroke="#22cc66" stroke-width="4.2"/><line x1="1656.2" y1="285.0" x2="1634.0" y2="291.1" stroke="#22cc66" stroke-width="4.2"/><line x1="1634.0" y1="291.1" x2="1611.7" y2="297.2" stroke="#d4d4d4" stroke-width="4.2"/><line x1="1656.2" y1="285.0" x2="1677.7" y2="306.4" stroke="#22cc66" stroke-width="4.2"/><line x1="1677.7" y1="306.4" x2="1699.1" y2="327.9" stroke="#a8a8a8" stroke-width="4.2"/><line x1="1699.1" y1="327.9" x2="1726.8" y2="321.0" stroke="#a8a8a8" stroke-width="4.2"/><line x1="1726.8" y1="321.0" x2="1754.4" y2="314.1" stroke="#22b0a0" stroke-width="4.2"/><line x1="1754.4" y1="314.1" x2="1761.3" y2="287.2" stroke="#22b0a0" stroke-width="4.2"/><line x1="1761.3" y1="287.2" x2="1768.2" y2="260.4" stroke="#a8a8a8" stroke-width="4.2"/><line x1="1699.1" y1="327.9" x2="1692.2" y2="357.0" stroke="#a8a8a8" stroke-width="4.2"/><line x1="1692.2" y1="357.0" x2="1685.3" y2="386.2" stroke="#ff6464" stroke-width="4.2"/><line x1="1685.3" y1="386.2" x2="1660.0" y2="398.4" stroke="#ff6464" stroke-width="4.2"/><line x1="1660.0" y1="398.4" x2="1634.7" y2="410.7" stroke="#6a8cff" stroke-width="4.2"/><line x1="1685.3" y1="386.2" x2="1705.2" y2="406.9" stroke="#ff6464" stroke-width="4.2"/><line x1="1705.2" y1="406.9" x2="1725.2" y2="427.6" stroke="#c060c0" stroke-width="4.2"/><line x1="1634.7" y1="410.7" x2="1638.6" y2="439.9" stroke="#6a8cff" stroke-width="4.2"/><line x1="1638.6" y1="439.9" x2="1642.4" y2="469.0" stroke="#22cc66" stroke-width="4.2"/><line x1="1725.2" y1="427.6" x2="1712.2" y2="453.7" stroke="#c060c0" stroke-width="4.2"/><line x1="1712.2" y1="453.7" x2="1699.1" y2="479.8" stroke="#22cc66" stroke-width="4.2"/><line x1="1725.2" y1="427.6" x2="1745.9" y2="423.8" stroke="#c060c0" stroke-width="4.2"/><line x1="1745.9" y1="423.8" x2="1766.6" y2="419.9" stroke="#d4d4d4" stroke-width="4.2"/><line x1="1642.4" y1="469.0" x2="1670.8" y2="474.4" stroke="#22cc66" stroke-width="4.2"/><line x1="1670.8" y1="474.4" x2="1699.1" y2="479.8" stroke="#22cc66" stroke-width="4.2"/><line x1="1564.2" y1="407.7" x2="1545.8" y2="417.6" stroke="#d4d4d4" stroke-width="4.2"/><line x1="1545.8" y1="417.6" x2="1527.4" y2="427.6" stroke="#b08030" stroke-width="4.2"/><line x1="1527.4" y1="427.6" x2="1532.8" y2="456.0" stroke="#b08030" stroke-width="4.2"/><line x1="1532.8" y1="456.0" x2="1538.1" y2="484.4" stroke="#ff6464" stroke-width="4.2"/><line x1="1538.1" y1="484.4" x2="1565.7" y2="495.1" stroke="#ff6464" stroke-width="4.2"/><line x1="1565.7" y1="495.1" x2="1593.3" y2="505.8" stroke="#ff6464" stroke-width="4.2"/><line x1="1538.1" y1="484.4" x2="1515.1" y2="502.8" stroke="#ff6464" stroke-width="4.2"/><line x1="1515.1" y1="502.8" x2="1492.1" y2="521.2" stroke="#ff6464" stroke-width="4.2"/><line x1="1593.3" y1="505.8" x2="1597.2" y2="536.5" stroke="#ff6464" stroke-width="4.2"/><line x1="1597.2" y1="536.5" x2="1601.0" y2="567.2" stroke="#ff6464" stroke-width="4.2"/><line x1="1593.3" y1="505.8" x2="1617.8" y2="487.4" stroke="#ff6464" stroke-width="4.2"/><line x1="1617.8" y1="487.4" x2="1642.4" y2="469.0" stroke="#22cc66" stroke-width="4.2"/><line x1="1492.1" y1="521.2" x2="1471.4" y2="512.0" stroke="#ff6464" stroke-width="4.2"/><line x1="1471.4" y1="512.0" x2="1450.7" y2="502.8" stroke="#d4d4d4" stroke-width="4.2"/><line x1="1492.1" y1="521.2" x2="1495.9" y2="550.3" stroke="#ff6464" stroke-width="4.2"/><line x1="1495.9" y1="550.3" x2="1499.8" y2="579.4" stroke="#22cc66" stroke-width="4.2"/><line x1="1601.0" y1="567.2" x2="1578.0" y2="584.9" stroke="#ff6464" stroke-width="4.2"/><line x1="1578.0" y1="584.9" x2="1555.0" y2="602.5" stroke="#22cc66" stroke-width="4.2"/><line x1="1601.0" y1="567.2" x2="1621.7" y2="576.4" stroke="#ff6464" stroke-width="4.2"/><line x1="1621.7" y1="576.4" x2="1642.4" y2="585.6" stroke="#d4d4d4" stroke-width="4.2"/><line x1="1499.8" y1="579.4" x2="1527.4" y2="591.0" stroke="#22cc66" stroke-width="4.2"/><line x1="1527.4" y1="591.0" x2="1555.0" y2="602.5" stroke="#22cc66" stroke-width="4.2"/><line x1="1499.8" y1="579.4" x2="1479.8" y2="594.0" stroke="#22cc66" stroke-width="4.2"/><line x1="1479.8" y1="594.0" x2="1459.9" y2="608.6" stroke="#d4d4d4" stroke-width="4.2"/><line x1="1555.0" y1="602.5" x2="1557.3" y2="626.2" stroke="#22cc66" stroke-width="4.2"/><line x1="1557.3" y1="626.2" x2="1559.6" y2="650.0" stroke="#d4d4d4" stroke-width="4.2"/><line x1="1699.1" y1="479.8" x2="1716.0" y2="505.1" stroke="#22cc66" stroke-width="4.2"/><line x1="1716.0" y1="505.1" x2="1732.9" y2="530.4" stroke="#a8a8a8" stroke-width="4.2"/><line x1="1732.9" y1="530.4" x2="1754.3" y2="525.8" stroke="#a8a8a8" stroke-width="4.2"/><line x1="1754.3" y1="525.8" x2="1775.8" y2="521.2" stroke="#d4d4d4" stroke-width="4.2"/><circle cx="1745.2" cy="168.4" r="8.5" fill="url(#gH)"/><circle cx="1640.9" cy="192.9" r="8.5" fill="url(#gH)"/><circle cx="1671.5" cy="228.2" r="12" fill="url(#gC)"/><circle cx="1729.8" cy="214.4" r="12" fill="url(#gR)"/><circle cx="1768.2" cy="260.4" r="12" fill="url(#gC)"/><circle cx="1812.6" cy="251.2" r="8.5" fill="url(#gH)"/><circle cx="1656.2" cy="285.0" r="12" fill="url(#gG)"/><circle cx="1611.7" cy="297.2" r="8.5" fill="url(#gH)"/><circle cx="1699.1" cy="327.9" r="12" fill="url(#gC)"/><circle cx="1754.4" cy="314.1" r="12" fill="url(#gT)"/><circle cx="1685.3" cy="386.2" r="12" fill="url(#gR)"/><circle cx="1634.7" cy="410.7" r="11.5" fill="url(#gN)"/><circle cx="1564.2" cy="407.7" r="8.5" fill="url(#gH)"/><circle cx="1527.4" cy="427.6" r="12" fill="url(#gB)"/><circle cx="1725.2" cy="427.6" r="12" fill="url(#gP)"/><circle cx="1766.6" cy="419.9" r="8.5" fill="url(#gH)"/><circle cx="1642.4" cy="469.0" r="12" fill="url(#gG)"/><circle cx="1699.1" cy="479.8" r="12" fill="url(#gG)"/><circle cx="1538.1" cy="484.4" r="12" fill="url(#gR)"/><circle cx="1593.3" cy="505.8" r="12" fill="url(#gR)"/><circle cx="1450.7" cy="502.8" r="8.5" fill="url(#gH)"/><circle cx="1492.1" cy="521.2" r="12" fill="url(#gR)"/><circle cx="1732.9" cy="530.4" r="12" fill="url(#gC)"/><circle cx="1775.8" cy="521.2" r="8.5" fill="url(#gH)"/><circle cx="1601.0" cy="567.2" r="12" fill="url(#gR)"/><circle cx="1642.4" cy="585.6" r="8.5" fill="url(#gH)"/><circle cx="1499.8" cy="579.4" r="12" fill="url(#gG)"/><circle cx="1555.0" cy="602.5" r="12" fill="url(#gG)"/><circle cx="1459.9" cy="608.6" r="8.5" fill="url(#gH)"/><circle cx="1559.6" cy="650.0" r="8.5" fill="url(#gH)"/></g><g transform="translate(0,0)"><ellipse cx="2112.0" cy="252.0" rx="36.0" ry="59.0" fill="#ff7373" transform="rotate(3.0 2112.0 252.0)"/><ellipse cx="2117.0" cy="247.0" rx="35.0" ry="58.0" fill="#40cf80" transform="rotate(3.0 2117.0 247.0)"/><ellipse cx="2112.0" cy="258.0" rx="31.0" ry="47.0" fill="url(#gL2)" transform="rotate(3.0 2112.0 258.0)"/><ellipse cx="2201.0" cy="208.0" rx="39.0" ry="44.0" fill="#ff7373" transform="rotate(10.0 2201.0 208.0)"/><ellipse cx="2187.0" cy="228.0" rx="34.0" ry="39.0" fill="#40cf80"/><ellipse cx="2190.0" cy="222.0" rx="29.0" ry="31.0" fill="url(#gL)"/><ellipse cx="2149.0" cy="352.0" rx="38.0" ry="57.0" fill="#ff7373" transform="rotate(8.0 2149.0 352.0)"/><ellipse cx="2143.0" cy="355.0" rx="35.0" ry="55.0" fill="#40cf80" transform="rotate(8.0 2143.0 355.0)"/><ellipse cx="2146.0" cy="355.0" rx="33.0" ry="52.0" fill="url(#gL)" transform="rotate(8.0 2146.0 355.0)"/><ellipse cx="2213.0" cy="322.0" rx="31.0" ry="36.0" fill="#ff7373"/><ellipse cx="2222.0" cy="314.0" rx="37.0" ry="38.0" fill="#40cf80"/><ellipse cx="2213.0" cy="317.0" rx="27.0" ry="33.0" fill="url(#gL2)"/><ellipse cx="2085.0" cy="415.0" rx="30.0" ry="29.0" fill="#ff7373"/><ellipse cx="2084.0" cy="414.0" rx="33.0" ry="32.0" fill="#40cf80"/><ellipse cx="2085.0" cy="415.0" rx="26.1" ry="25.2" fill="url(#gL)"/><ellipse cx="2182.0" cy="433.0" rx="30.0" ry="25.0" fill="#ff7373"/><ellipse cx="2190.0" cy="433.0" rx="29.0" ry="26.0" fill="#40cf80"/><ellipse cx="2186.0" cy="433.0" rx="26.0" ry="22.0" fill="url(#gL2)"/><ellipse cx="2131.0" cy="492.0" rx="48.0" ry="27.0" fill="#ff7373" transform="rotate(8.0 2131.0 492.0)"/><ellipse cx="2131.0" cy="485.0" rx="47.0" ry="26.0" fill="#40cf80" transform="rotate(8.0 2131.0 485.0)"/><ellipse cx="2131.0" cy="488.0" rx="39.6" ry="20.7" fill="url(#gL)" transform="rotate(8.0 2131.0 488.0)"/><line x1="2088.6" y1="415.3" x2="2019.6" y2="412.3" stroke="#c8d2ff" stroke-width="2"/><line x1="2091.7" y1="203.7" x2="2108.6" y2="219.8" stroke="#d4d4d4" stroke-width="4.2"/><line x1="2108.6" y1="219.8" x2="2125.4" y2="235.9" stroke="#22cc66" stroke-width="4.2"/><line x1="2125.4" y1="235.9" x2="2117.7" y2="263.5" stroke="#22cc66" stroke-width="4.2"/><line x1="2117.7" y1="263.5" x2="2110.0" y2="291.1" stroke="#22cc66" stroke-width="4.2"/><line x1="2125.4" y1="235.9" x2="2153.8" y2="229.8" stroke="#22cc66" stroke-width="4.2"/><line x1="2153.8" y1="229.8" x2="2182.1" y2="223.6" stroke="#ff6464" stroke-width="4.2"/><line x1="2182.1" y1="223.6" x2="2189.0" y2="201.3" stroke="#ff6464" stroke-width="4.2"/><line x1="2189.0" y1="201.3" x2="2195.9" y2="179.1" stroke="#ff8080" stroke-width="4.2"/><line x1="2182.1" y1="223.6" x2="2200.6" y2="245.1" stroke="#ff6464" stroke-width="4.2"/><line x1="2200.6" y1="245.1" x2="2219.0" y2="266.6" stroke="#a8a8a8" stroke-width="4.2"/><line x1="2219.0" y1="266.6" x2="2241.2" y2="262.8" stroke="#a8a8a8" stroke-width="4.2"/><line x1="2241.2" y1="262.8" x2="2263.4" y2="258.9" stroke="#d4d4d4" stroke-width="4.2"/><line x1="2219.0" y1="266.6" x2="2212.8" y2="294.2" stroke="#a8a8a8" stroke-width="4.2"/><line x1="2212.8" y1="294.2" x2="2206.7" y2="321.8" stroke="#22b0a0" stroke-width="4.2"/><line x1="2110.0" y1="291.1" x2="2087.8" y2="298.0" stroke="#22cc66" stroke-width="4.2"/><line x1="2087.8" y1="298.0" x2="2065.6" y2="304.9" stroke="#d4d4d4" stroke-width="4.2"/><line x1="2110.0" y1="291.1" x2="2130.8" y2="311.8" stroke="#22cc66" stroke-width="4.2"/><line x1="2130.8" y1="311.8" x2="2151.5" y2="332.5" stroke="#ff6464" stroke-width="4.2"/><line x1="2151.5" y1="332.5" x2="2179.1" y2="327.1" stroke="#ff6464" stroke-width="4.2"/><line x1="2179.1" y1="327.1" x2="2206.7" y2="321.8" stroke="#22b0a0" stroke-width="4.2"/><line x1="2151.5" y1="332.5" x2="2145.3" y2="362.4" stroke="#ff6464" stroke-width="4.2"/><line x1="2145.3" y1="362.4" x2="2139.2" y2="392.3" stroke="#ff6464" stroke-width="4.2"/><line x1="2139.2" y1="392.3" x2="2113.9" y2="403.8" stroke="#ff6464" stroke-width="4.2"/><line x1="2113.9" y1="403.8" x2="2088.6" y2="415.3" stroke="#22b0a0" stroke-width="4.2"/><line x1="2139.2" y1="392.3" x2="2158.3" y2="412.2" stroke="#ff6464" stroke-width="4.2"/><line x1="2158.3" y1="412.2" x2="2177.5" y2="432.2" stroke="#22b0a0" stroke-width="4.2"/><line x1="2019.6" y1="412.3" x2="2001.9" y2="422.2" stroke="#d4d4d4" stroke-width="4.2"/><line x1="2001.9" y1="422.2" x2="1984.3" y2="432.2" stroke="#ff4040" stroke-width="4.2"/><line x1="1984.3" y1="432.2" x2="1989.7" y2="459.8" stroke="#ff4040" stroke-width="4.2"/><line x1="1989.7" y1="459.8" x2="1995.0" y2="487.4" stroke="#a8a8a8" stroke-width="4.2"/><line x1="2088.6" y1="415.3" x2="2093.2" y2="444.5" stroke="#22b0a0" stroke-width="4.2"/><line x1="2093.2" y1="444.5" x2="2097.8" y2="473.6" stroke="#ff6464" stroke-width="4.2"/><line x1="2097.8" y1="473.6" x2="2125.4" y2="478.2" stroke="#ff6464" stroke-width="4.2"/><line x1="2125.4" y1="478.2" x2="2153.0" y2="482.8" stroke="#ff6464" stroke-width="4.2"/><line x1="2177.5" y1="432.2" x2="2165.2" y2="457.5" stroke="#22b0a0" stroke-width="4.2"/><line x1="2165.2" y1="457.5" x2="2153.0" y2="482.8" stroke="#ff6464" stroke-width="4.2"/><line x1="2177.5" y1="432.2" x2="2199.0" y2="428.4" stroke="#22b0a0" stroke-width="4.2"/><line x1="2199.0" y1="428.4" x2="2220.5" y2="424.5" stroke="#d4d4d4" stroke-width="4.2"/><line x1="2153.0" y1="482.8" x2="2169.8" y2="508.1" stroke="#ff6464" stroke-width="4.2"/><line x1="2169.8" y1="508.1" x2="2186.7" y2="533.4" stroke="#a8a8a8" stroke-width="4.2"/><line x1="2186.7" y1="533.4" x2="2207.4" y2="528.0" stroke="#a8a8a8" stroke-width="4.2"/><line x1="2207.4" y1="528.0" x2="2228.2" y2="522.7" stroke="#d4d4d4" stroke-width="4.2"/><line x1="2186.7" y1="533.4" x2="2176.8" y2="541.8" stroke="#a8a8a8" stroke-width="4.2"/><line x1="2176.8" y1="541.8" x2="2166.8" y2="550.3" stroke="#d4d4d4" stroke-width="4.2"/><line x1="2186.7" y1="533.4" x2="2188.2" y2="551.0" stroke="#a8a8a8" stroke-width="4.2"/><line x1="2188.2" y1="551.0" x2="2189.8" y2="568.7" stroke="#d4d4d4" stroke-width="4.2"/><line x1="2097.8" y1="473.6" x2="2073.2" y2="491.2" stroke="#ff6464" stroke-width="4.2"/><line x1="2073.2" y1="491.2" x2="2048.7" y2="508.9" stroke="#a8a8a8" stroke-width="4.2"/><line x1="2048.7" y1="508.9" x2="2021.8" y2="498.1" stroke="#a8a8a8" stroke-width="4.2"/><line x1="2021.8" y1="498.1" x2="1995.0" y2="487.4" stroke="#a8a8a8" stroke-width="4.2"/><line x1="1995.0" y1="487.4" x2="1972.0" y2="505.1" stroke="#a8a8a8" stroke-width="4.2"/><line x1="1972.0" y1="505.1" x2="1949.0" y2="522.7" stroke="#a8a8a8" stroke-width="4.2"/><line x1="1949.0" y1="522.7" x2="1929.0" y2="514.2" stroke="#a8a8a8" stroke-width="4.2"/><line x1="1929.0" y1="514.2" x2="1909.1" y2="505.8" stroke="#d4d4d4" stroke-width="4.2"/><line x1="1949.0" y1="522.7" x2="1952.8" y2="551.9" stroke="#a8a8a8" stroke-width="4.2"/><line x1="1952.8" y1="551.9" x2="1956.7" y2="581.0" stroke="#a8a8a8" stroke-width="4.2"/><line x1="1956.7" y1="581.0" x2="1938.3" y2="594.8" stroke="#a8a8a8" stroke-width="4.2"/><line x1="1938.3" y1="594.8" x2="1919.9" y2="608.6" stroke="#d4d4d4" stroke-width="4.2"/><line x1="1956.7" y1="581.0" x2="1982.8" y2="592.5" stroke="#a8a8a8" stroke-width="4.2"/><line x1="1982.8" y1="592.5" x2="2008.8" y2="604.0" stroke="#a8a8a8" stroke-width="4.2"/><line x1="2008.8" y1="604.0" x2="2031.8" y2="586.4" stroke="#a8a8a8" stroke-width="4.2"/><line x1="2031.8" y1="586.4" x2="2054.8" y2="568.7" stroke="#a8a8a8" stroke-width="4.2"/><line x1="2008.8" y1="604.0" x2="2012.7" y2="626.2" stroke="#a8a8a8" stroke-width="4.2"/><line x1="2012.7" y1="626.2" x2="2016.5" y2="648.5" stroke="#d4d4d4" stroke-width="4.2"/><line x1="2054.8" y1="568.7" x2="2051.8" y2="538.8" stroke="#a8a8a8" stroke-width="4.2"/><line x1="2051.8" y1="538.8" x2="2048.7" y2="508.9" stroke="#a8a8a8" stroke-width="4.2"/><line x1="2054.8" y1="568.7" x2="2075.6" y2="577.9" stroke="#a8a8a8" stroke-width="4.2"/><line x1="2075.6" y1="577.9" x2="2096.3" y2="587.1" stroke="#d4d4d4" stroke-width="4.2"/><circle cx="2195.9" cy="179.1" r="9" fill="url(#gR)" opacity="0.35"/><circle cx="2091.7" cy="203.7" r="8.5" fill="url(#gH)" opacity="0.35"/><circle cx="2125.4" cy="235.9" r="12" fill="url(#gG)"/><circle cx="2182.1" cy="223.6" r="12" fill="url(#gR)"/><circle cx="2219.0" cy="266.6" r="12" fill="url(#gC)"/><circle cx="2263.4" cy="258.9" r="8.5" fill="url(#gH)"/><circle cx="2110.0" cy="291.1" r="12" fill="url(#gG)"/><circle cx="2065.6" cy="304.9" r="8.5" fill="url(#gH)"/><circle cx="2151.5" cy="332.5" r="12" fill="url(#gR)"/><circle cx="2206.7" cy="321.8" r="12" fill="url(#gT)"/><circle cx="2139.2" cy="392.3" r="12" fill="url(#gR)"/><circle cx="2088.6" cy="415.3" r="12" fill="url(#gT)"/><circle cx="2019.6" cy="412.3" r="8.5" fill="url(#gH)"/><circle cx="1984.3" cy="432.2" r="11" fill="url(#gO)"/><circle cx="2177.5" cy="432.2" r="12" fill="url(#gT)"/><circle cx="2220.5" cy="424.5" r="8.5" fill="url(#gH)"/><circle cx="2097.8" cy="473.6" r="12" fill="url(#gR)"/><circle cx="2153.0" cy="482.8" r="12" fill="url(#gR)"/><circle cx="1995.0" cy="487.4" r="12" fill="url(#gC)"/><circle cx="2048.7" cy="508.9" r="12" fill="url(#gC)"/><circle cx="1909.1" cy="505.8" r="8.5" fill="url(#gH)"/><circle cx="1949.0" cy="522.7" r="12" fill="url(#gC)"/><circle cx="2186.7" cy="533.4" r="12" fill="url(#gC)"/><circle cx="2228.2" cy="522.7" r="8.5" fill="url(#gH)"/><circle cx="2166.8" cy="550.3" r="8.5" fill="url(#gH)"/><circle cx="2189.8" cy="568.7" r="8.5" fill="url(#gH)"/><circle cx="2054.8" cy="568.7" r="12" fill="url(#gC)"/><circle cx="2096.3" cy="587.1" r="8.5" fill="url(#gH)"/><circle cx="1956.7" cy="581.0" r="12" fill="url(#gC)"/><circle cx="1919.9" cy="608.6" r="8.5" fill="url(#gH)"/><circle cx="2008.8" cy="604.0" r="12" fill="url(#gC)"/><circle cx="2016.5" cy="648.5" r="8.5" fill="url(#gH)"/></g><g transform="matrix(0.98878,-0.02899,0.02683,1.00610,3.616,650.370)"><ellipse cx="1739.0" cy="212.0" rx="28.0" ry="33.0" fill="#ff7373" transform="rotate(-15.0 1739.0 212.0)"/><ellipse cx="1765.0" cy="248.0" rx="11.0" ry="15.0" fill="#ff7373" transform="rotate(-35.0 1765.0 248.0)"/><ellipse cx="1728.0" cy="226.0" rx="26.0" ry="24.0" fill="#40cf80"/><ellipse cx="1731.0" cy="217.0" rx="20.0" ry="19.0" fill="url(#gL)"/><ellipse cx="1657.0" cy="291.0" rx="27.0" ry="26.0" fill="#ff7373"/><ellipse cx="1662.0" cy="282.0" rx="29.0" ry="28.0" fill="#40cf80"/><ellipse cx="1659.0" cy="287.0" rx="20.7" ry="19.8" fill="url(#gL)"/><ellipse cx="1703.0" cy="313.0" rx="10.0" ry="9.0" fill="#ff7373"/><ellipse cx="1704.0" cy="312.0" rx="13.0" ry="12.0" fill="#40cf80"/><ellipse cx="1703.0" cy="313.0" rx="9.0" ry="8.1" fill="url(#gL)"/><ellipse cx="1746.0" cy="318.0" rx="21.0" ry="19.0" fill="#ff7373"/><ellipse cx="1755.0" cy="312.0" rx="22.0" ry="20.0" fill="#40cf80"/><ellipse cx="1751.0" cy="314.0" rx="17.1" ry="15.3" fill="url(#gL)"/><ellipse cx="1699.0" cy="400.0" rx="62.0" ry="37.0" fill="#40cf80" transform="rotate(40.0 1699.0 400.0)"/><ellipse cx="1704.0" cy="397.0" rx="64.0" ry="39.0" fill="#ff7373" transform="rotate(40.0 1704.0 397.0)"/><ellipse cx="1701.0" cy="398.0" rx="54.0" ry="31.5" fill="url(#gL)" transform="rotate(40.0 1701.0 398.0)"/><ellipse cx="1534.0" cy="424.0" rx="27.0" ry="26.0" fill="#ff7373"/><ellipse cx="1524.0" cy="424.0" rx="31.0" ry="30.0" fill="#40cf80"/><ellipse cx="1530.0" cy="424.0" rx="23.4" ry="22.5" fill="url(#gL)"/><ellipse cx="1677.0" cy="475.0" rx="63.0" ry="43.0" fill="#ff7373" transform="rotate(17.0 1677.0 475.0)"/><ellipse cx="1683.0" cy="483.0" rx="64.0" ry="44.0" fill="#40cf80" transform="rotate(17.0 1683.0 483.0)"/><ellipse cx="1680.0" cy="479.0" rx="54.0" ry="36.0" fill="url(#gL)" transform="rotate(17.0 1680.0 479.0)"/><path d="M1476.3,510.5 C1477.2,503.7 1484.4,490.5 1490.1,483.0 C1495.9,475.6 1502.4,470.0 1510.7,465.8 C1519.1,461.7 1530.0,458.7 1540.0,458.1 C1550.0,457.5 1561.5,459.9 1571.0,462.3 C1580.5,464.7 1589.9,468.6 1596.7,472.6 C1603.6,476.6 1608.4,480.1 1612.3,486.4 C1616.2,492.7 1618.9,500.8 1620.0,510.5 C1621.2,520.3 1620.4,534.9 1619.1,544.9 C1617.8,554.9 1615.7,564.9 1612.3,570.7 C1608.9,576.4 1603.1,580.8 1598.5,579.3 C1593.9,577.9 1588.7,569.0 1584.7,562.1 C1580.7,555.2 1579.5,544.6 1574.4,538.0 C1569.2,531.4 1561.5,526.3 1553.8,522.6 C1546.1,518.8 1536.5,516.5 1527.9,515.7 C1519.3,514.8 1509.4,516.0 1502.2,517.4 C1495.0,518.8 1489.3,525.4 1485.0,524.2 C1480.7,523.1 1475.5,517.4 1476.3,510.5Z" fill="#ff7373"/><path d="M1480.7,520.6 C1481.5,513.9 1488.5,501.1 1494.1,493.9 C1499.7,486.7 1506.0,481.2 1514.1,477.2 C1522.2,473.2 1532.8,470.3 1542.5,469.7 C1552.2,469.1 1563.4,471.4 1572.6,473.8 C1581.8,476.2 1590.9,479.9 1597.6,483.8 C1604.3,487.7 1608.9,491.1 1612.7,497.2 C1616.5,503.3 1619.1,511.1 1620.2,520.6 C1621.3,530.1 1620.5,544.3 1619.3,554.0 C1618.0,563.7 1616.0,573.4 1612.7,579.0 C1609.4,584.6 1603.8,588.8 1599.3,587.4 C1594.8,586.0 1589.8,577.4 1585.9,570.7 C1582.0,564.0 1580.9,553.7 1575.9,547.3 C1570.9,540.9 1563.4,535.9 1555.9,532.3 C1548.4,528.7 1539.2,526.4 1530.8,525.6 C1522.4,524.8 1512.8,525.9 1505.8,527.3 C1498.8,528.7 1493.3,535.0 1489.1,533.9 C1484.9,532.8 1479.9,527.3 1480.7,520.6Z" fill="#ff7373"/><path d="M1483.3,514.5 C1484.2,507.7 1491.4,494.5 1497.1,487.0 C1502.9,479.6 1509.4,474.0 1517.7,469.8 C1526.1,465.7 1537.0,462.7 1547.0,462.1 C1557.0,461.5 1568.5,463.9 1578.0,466.3 C1587.5,468.7 1596.9,472.6 1603.7,476.6 C1610.6,480.6 1615.4,484.1 1619.3,490.4 C1623.2,496.7 1625.9,504.8 1627.0,514.5 C1628.2,524.3 1627.4,538.9 1626.1,548.9 C1624.8,558.9 1622.7,568.9 1619.3,574.7 C1615.9,580.4 1610.1,584.8 1605.5,583.3 C1600.9,581.9 1595.7,573.0 1591.7,566.1 C1587.7,559.2 1586.5,548.6 1581.4,542.0 C1576.2,535.4 1568.5,530.3 1560.8,526.6 C1553.1,522.8 1543.5,520.5 1534.9,519.7 C1526.3,518.8 1516.4,520.0 1509.2,521.4 C1502.0,522.8 1496.3,529.4 1492.0,528.2 C1487.7,527.1 1482.5,521.4 1483.3,514.5Z" fill="#40cf80"/><path d="M1485.6,513.7 C1486.4,507.4 1493.1,495.2 1498.4,488.4 C1503.7,481.5 1509.7,476.3 1517.4,472.5 C1525.0,468.7 1535.1,465.9 1544.3,465.4 C1553.6,464.8 1564.2,467.0 1572.9,469.3 C1581.7,471.5 1590.3,475.1 1596.7,478.8 C1603.0,482.5 1607.5,485.7 1611.0,491.5 C1614.6,497.3 1617.1,504.7 1618.2,513.7 C1619.2,522.7 1618.5,536.2 1617.3,545.5 C1616.1,554.7 1614.2,563.9 1611.0,569.2 C1607.9,574.5 1602.5,578.5 1598.3,577.2 C1594.1,575.9 1589.3,567.7 1585.6,561.3 C1581.9,555.0 1580.8,545.2 1576.1,539.1 C1571.3,533.0 1564.2,528.3 1557.1,524.8 C1549.9,521.4 1541.2,519.3 1533.2,518.5 C1525.3,517.7 1516.1,518.8 1509.5,520.1 C1502.9,521.4 1497.6,527.4 1493.6,526.4 C1489.6,525.3 1484.8,520.1 1485.6,513.7Z" fill="url(#gL)"/><ellipse cx="1526.0" cy="590.0" rx="59.0" ry="36.0" fill="#ff7373" transform="rotate(24.0 1526.0 590.0)"/><ellipse cx="1517.0" cy="602.0" rx="61.0" ry="38.0" fill="#40cf80" transform="rotate(24.0 1517.0 602.0)"/><ellipse cx="1521.0" cy="597.0" rx="50.4" ry="29.7" fill="url(#gL)" transform="rotate(24.0 1521.0 597.0)"/><ellipse cx="1717.0" cy="549.0" rx="16.0" ry="16.0" fill="#40cf80"/><ellipse cx="1739.0" cy="561.0" rx="22.0" ry="27.0" fill="#ff7373" transform="rotate(-10.0 1739.0 561.0)"/><ellipse cx="1724.0" cy="552.0" rx="9.0" ry="10.0" fill="url(#gL)"/><ellipse cx="1785.2" cy="417.3" rx="20.0" ry="20.0" fill="#ff7373"/><ellipse cx="1790.2" cy="417.3" rx="20.0" ry="20.0" fill="#40cf80"/><ellipse cx="1787.2" cy="417.3" rx="15.3" ry="15.3" fill="url(#gL)"/><line x1="1634.7" y1="410.7" x2="1564.2" y2="407.7" stroke="#c8d2ff" stroke-width="2"/><line x1="1786.8" y1="374.6" x2="1754.4" y2="314.1" stroke="#c8d2ff" stroke-width="2"/><line x1="1671.5" y1="228.2" x2="1656.2" y2="210.6" stroke="#a8a8a8" stroke-width="4.2"/><line x1="1656.2" y1="210.6" x2="1640.9" y2="192.9" stroke="#d4d4d4" stroke-width="4.2"/><line x1="1671.5" y1="228.2" x2="1700.7" y2="221.3" stroke="#a8a8a8" stroke-width="4.2"/><line x1="1700.7" y1="221.3" x2="1729.8" y2="214.4" stroke="#ff6464" stroke-width="4.2"/><line x1="1729.8" y1="214.4" x2="1749.0" y2="237.4" stroke="#ff6464" stroke-width="4.2"/><line x1="1749.0" y1="237.4" x2="1768.2" y2="260.4" stroke="#a8a8a8" stroke-width="4.2"/><line x1="1729.8" y1="214.4" x2="1737.5" y2="191.4" stroke="#ff6464" stroke-width="4.2"/><line x1="1737.5" y1="191.4" x2="1745.2" y2="168.4" stroke="#d4d4d4" stroke-width="4.2"/><line x1="1768.2" y1="260.4" x2="1790.4" y2="255.8" stroke="#a8a8a8" stroke-width="4.2"/><line x1="1790.4" y1="255.8" x2="1812.6" y2="251.2" stroke="#d4d4d4" stroke-width="4.2"/><line x1="1671.5" y1="228.2" x2="1663.8" y2="256.6" stroke="#a8a8a8" stroke-width="4.2"/><line x1="1663.8" y1="256.6" x2="1656.2" y2="285.0" stroke="#22cc66" stroke-width="4.2"/><line x1="1656.2" y1="285.0" x2="1634.0" y2="291.1" stroke="#22cc66" stroke-width="4.2"/><line x1="1634.0" y1="291.1" x2="1611.7" y2="297.2" stroke="#d4d4d4" stroke-width="4.2"/><line x1="1656.2" y1="285.0" x2="1677.7" y2="306.4" stroke="#22cc66" stroke-width="4.2"/><line x1="1677.7" y1="306.4" x2="1699.1" y2="327.9" stroke="#a8a8a8" stroke-width="4.2"/><line x1="1699.1" y1="327.9" x2="1726.8" y2="321.0" stroke="#a8a8a8" stroke-width="4.2"/><line x1="1726.8" y1="321.0" x2="1754.4" y2="314.1" stroke="#22b0a0" stroke-width="4.2"/><line x1="1754.4" y1="314.1" x2="1761.3" y2="287.2" stroke="#22b0a0" stroke-width="4.2"/><line x1="1761.3" y1="287.2" x2="1768.2" y2="260.4" stroke="#a8a8a8" stroke-width="4.2"/><line x1="1699.1" y1="327.9" x2="1692.2" y2="357.0" stroke="#a8a8a8" stroke-width="4.2"/><line x1="1692.2" y1="357.0" x2="1685.3" y2="386.2" stroke="#ff6464" stroke-width="4.2"/><line x1="1685.3" y1="386.2" x2="1660.0" y2="398.4" stroke="#ff6464" stroke-width="4.2"/><line x1="1660.0" y1="398.4" x2="1634.7" y2="410.7" stroke="#6a8cff" stroke-width="4.2"/><line x1="1685.3" y1="386.2" x2="1705.2" y2="406.9" stroke="#ff6464" stroke-width="4.2"/><line x1="1705.2" y1="406.9" x2="1725.2" y2="427.6" stroke="#c060c0" stroke-width="4.2"/><line x1="1634.7" y1="410.7" x2="1638.6" y2="439.9" stroke="#6a8cff" stroke-width="4.2"/><line x1="1638.6" y1="439.9" x2="1642.4" y2="469.0" stroke="#22cc66" stroke-width="4.2"/><line x1="1725.2" y1="427.6" x2="1712.2" y2="453.7" stroke="#c060c0" stroke-width="4.2"/><line x1="1712.2" y1="453.7" x2="1699.1" y2="479.8" stroke="#22cc66" stroke-width="4.2"/><line x1="1642.4" y1="469.0" x2="1670.8" y2="474.4" stroke="#22cc66" stroke-width="4.2"/><line x1="1670.8" y1="474.4" x2="1699.1" y2="479.8" stroke="#22cc66" stroke-width="4.2"/><line x1="1564.2" y1="407.7" x2="1545.8" y2="417.6" stroke="#d4d4d4" stroke-width="4.2"/><line x1="1545.8" y1="417.6" x2="1527.4" y2="427.6" stroke="#b08030" stroke-width="4.2"/><line x1="1527.4" y1="427.6" x2="1532.8" y2="456.0" stroke="#b08030" stroke-width="4.2"/><line x1="1532.8" y1="456.0" x2="1538.1" y2="484.4" stroke="#ff6464" stroke-width="4.2"/><line x1="1538.1" y1="484.4" x2="1565.7" y2="495.1" stroke="#ff6464" stroke-width="4.2"/><line x1="1565.7" y1="495.1" x2="1593.3" y2="505.8" stroke="#ff6464" stroke-width="4.2"/><line x1="1538.1" y1="484.4" x2="1515.1" y2="502.8" stroke="#ff6464" stroke-width="4.2"/><line x1="1515.1" y1="502.8" x2="1492.1" y2="521.2" stroke="#ff6464" stroke-width="4.2"/><line x1="1593.3" y1="505.8" x2="1597.2" y2="536.5" stroke="#ff6464" stroke-width="4.2"/><line x1="1597.2" y1="536.5" x2="1601.0" y2="567.2" stroke="#ff6464" stroke-width="4.2"/><line x1="1593.3" y1="505.8" x2="1617.8" y2="487.4" stroke="#ff6464" stroke-width="4.2"/><line x1="1617.8" y1="487.4" x2="1642.4" y2="469.0" stroke="#22cc66" stroke-width="4.2"/><line x1="1492.1" y1="521.2" x2="1471.4" y2="512.0" stroke="#ff6464" stroke-width="4.2"/><line x1="1471.4" y1="512.0" x2="1450.7" y2="502.8" stroke="#d4d4d4" stroke-width="4.2"/><line x1="1492.1" y1="521.2" x2="1495.9" y2="550.3" stroke="#ff6464" stroke-width="4.2"/><line x1="1495.9" y1="550.3" x2="1499.8" y2="579.4" stroke="#22cc66" stroke-width="4.2"/><line x1="1601.0" y1="567.2" x2="1578.0" y2="584.9" stroke="#ff6464" stroke-width="4.2"/><line x1="1578.0" y1="584.9" x2="1555.0" y2="602.5" stroke="#22cc66" stroke-width="4.2"/><line x1="1601.0" y1="567.2" x2="1621.7" y2="576.4" stroke="#ff6464" stroke-width="4.2"/><line x1="1621.7" y1="576.4" x2="1642.4" y2="585.6" stroke="#d4d4d4" stroke-width="4.2"/><line x1="1499.8" y1="579.4" x2="1527.4" y2="591.0" stroke="#22cc66" stroke-width="4.2"/><line x1="1527.4" y1="591.0" x2="1555.0" y2="602.5" stroke="#22cc66" stroke-width="4.2"/><line x1="1499.8" y1="579.4" x2="1479.8" y2="594.0" stroke="#22cc66" stroke-width="4.2"/><line x1="1479.8" y1="594.0" x2="1459.9" y2="608.6" stroke="#d4d4d4" stroke-width="4.2"/><line x1="1555.0" y1="602.5" x2="1557.3" y2="626.2" stroke="#22cc66" stroke-width="4.2"/><line x1="1557.3" y1="626.2" x2="1559.6" y2="650.0" stroke="#d4d4d4" stroke-width="4.2"/><line x1="1699.1" y1="479.8" x2="1716.0" y2="505.1" stroke="#22cc66" stroke-width="4.2"/><line x1="1716.0" y1="505.1" x2="1732.9" y2="530.4" stroke="#a8a8a8" stroke-width="4.2"/><line x1="1732.9" y1="530.4" x2="1754.3" y2="525.8" stroke="#a8a8a8" stroke-width="4.2"/><line x1="1754.3" y1="525.8" x2="1775.8" y2="521.2" stroke="#d4d4d4" stroke-width="4.2"/><line x1="1725.2" y1="427.6" x2="1756.2" y2="422.4" stroke="#c060c0" stroke-width="4.2"/><line x1="1756.2" y1="422.4" x2="1787.2" y2="417.3" stroke="#b08030" stroke-width="4.2"/><line x1="1787.2" y1="417.3" x2="1787.0" y2="396.0" stroke="#b08030" stroke-width="4.2"/><line x1="1787.0" y1="396.0" x2="1786.8" y2="374.6" stroke="#d4d4d4" stroke-width="4.2"/><circle cx="1745.2" cy="168.4" r="8.5" fill="url(#gH)"/><circle cx="1640.9" cy="192.9" r="8.5" fill="url(#gH)"/><circle cx="1671.5" cy="228.2" r="12" fill="url(#gC)"/><circle cx="1729.8" cy="214.4" r="12" fill="url(#gR)"/><circle cx="1768.2" cy="260.4" r="12" fill="url(#gC)"/><circle cx="1812.6" cy="251.2" r="8.5" fill="url(#gH)"/><circle cx="1656.2" cy="285.0" r="12" fill="url(#gG)"/><circle cx="1611.7" cy="297.2" r="8.5" fill="url(#gH)"/><circle cx="1699.1" cy="327.9" r="12" fill="url(#gC)"/><circle cx="1754.4" cy="314.1" r="12" fill="url(#gT)"/><circle cx="1685.3" cy="386.2" r="12" fill="url(#gR)"/><circle cx="1634.7" cy="410.7" r="11.5" fill="url(#gN)"/><circle cx="1564.2" cy="407.7" r="8.5" fill="url(#gH)"/><circle cx="1527.4" cy="427.6" r="12" fill="url(#gB)"/><circle cx="1725.2" cy="427.6" r="12" fill="url(#gP)"/><circle cx="1642.4" cy="469.0" r="12" fill="url(#gG)"/><circle cx="1699.1" cy="479.8" r="12" fill="url(#gG)"/><circle cx="1538.1" cy="484.4" r="12" fill="url(#gR)"/><circle cx="1593.3" cy="505.8" r="12" fill="url(#gR)"/><circle cx="1450.7" cy="502.8" r="8.5" fill="url(#gH)"/><circle cx="1492.1" cy="521.2" r="12" fill="url(#gR)"/><circle cx="1732.9" cy="530.4" r="12" fill="url(#gC)"/><circle cx="1775.8" cy="521.2" r="8.5" fill="url(#gH)"/><circle cx="1601.0" cy="567.2" r="12" fill="url(#gR)"/><circle cx="1642.4" cy="585.6" r="8.5" fill="url(#gH)"/><circle cx="1499.8" cy="579.4" r="12" fill="url(#gG)"/><circle cx="1555.0" cy="602.5" r="12" fill="url(#gG)"/><circle cx="1459.9" cy="608.6" r="8.5" fill="url(#gH)"/><circle cx="1559.6" cy="650.0" r="8.5" fill="url(#gH)"/><circle cx="1787.2" cy="417.3" r="12" fill="url(#gB)"/><circle cx="1786.8" cy="374.6" r="8.5" fill="url(#gH)"/></g><g transform="matrix(1.02402,-0.03898,0.03455,1.02927,-69.210,669.470)"><ellipse cx="2112.0" cy="252.0" rx="36.0" ry="59.0" fill="#ff7373" transform="rotate(3.0 2112.0 252.0)"/><ellipse cx="2117.0" cy="247.0" rx="35.0" ry="58.0" fill="#40cf80" transform="rotate(3.0 2117.0 247.0)"/><ellipse cx="2112.0" cy="258.0" rx="31.0" ry="47.0" fill="url(#gL2)" transform="rotate(3.0 2112.0 258.0)"/><ellipse cx="2201.0" cy="208.0" rx="39.0" ry="44.0" fill="#ff7373" transform="rotate(10.0 2201.0 208.0)"/><ellipse cx="2187.0" cy="228.0" rx="34.0" ry="39.0" fill="#40cf80"/><ellipse cx="2190.0" cy="222.0" rx="29.0" ry="31.0" fill="url(#gL)"/><ellipse cx="2149.0" cy="352.0" rx="38.0" ry="57.0" fill="#ff7373" transform="rotate(8.0 2149.0 352.0)"/><ellipse cx="2143.0" cy="355.0" rx="35.0" ry="55.0" fill="#40cf80" transform="rotate(8.0 2143.0 355.0)"/><ellipse cx="2146.0" cy="355.0" rx="33.0" ry="52.0" fill="url(#gL)" transform="rotate(8.0 2146.0 355.0)"/><ellipse cx="2213.0" cy="322.0" rx="31.0" ry="36.0" fill="#ff7373"/><ellipse cx="2222.0" cy="314.0" rx="37.0" ry="38.0" fill="#40cf80"/><ellipse cx="2213.0" cy="317.0" rx="27.0" ry="33.0" fill="url(#gL2)"/><ellipse cx="2085.0" cy="415.0" rx="30.0" ry="29.0" fill="#ff7373"/><ellipse cx="2084.0" cy="414.0" rx="33.0" ry="32.0" fill="#40cf80"/><ellipse cx="2085.0" cy="415.0" rx="26.1" ry="25.2" fill="url(#gL)"/><ellipse cx="2182.0" cy="433.0" rx="30.0" ry="25.0" fill="#ff7373"/><ellipse cx="2190.0" cy="433.0" rx="29.0" ry="26.0" fill="#40cf80"/><ellipse cx="2186.0" cy="433.0" rx="26.0" ry="22.0" fill="url(#gL2)"/><ellipse cx="2131.0" cy="492.0" rx="48.0" ry="27.0" fill="#ff7373" transform="rotate(8.0 2131.0 492.0)"/><ellipse cx="2131.0" cy="485.0" rx="47.0" ry="26.0" fill="#40cf80" transform="rotate(8.0 2131.0 485.0)"/><ellipse cx="2131.0" cy="488.0" rx="39.6" ry="20.7" fill="url(#gL)" transform="rotate(8.0 2131.0 488.0)"/><ellipse cx="2240.2" cy="423.8" rx="20.0" ry="20.0" fill="#ff7373"/><ellipse cx="2236.2" cy="423.8" rx="20.0" ry="20.0" fill="#40cf80"/><ellipse cx="2238.2" cy="423.8" rx="15.3" ry="15.3" fill="url(#gL)"/><line x1="2088.6" y1="415.3" x2="2019.6" y2="412.3" stroke="#c8d2ff" stroke-width="2"/><line x1="2238.0" y1="383.5" x2="2206.7" y2="321.8" stroke="#c8d2ff" stroke-width="2"/><line x1="2091.7" y1="203.7" x2="2108.6" y2="219.8" stroke="#d4d4d4" stroke-width="4.2"/><line x1="2108.6" y1="219.8" x2="2125.4" y2="235.9" stroke="#22cc66" stroke-width="4.2"/><line x1="2125.4" y1="235.9" x2="2117.7" y2="263.5" stroke="#22cc66" stroke-width="4.2"/><line x1="2117.7" y1="263.5" x2="2110.0" y2="291.1" stroke="#22cc66" stroke-width="4.2"/><line x1="2125.4" y1="235.9" x2="2153.8" y2="229.8" stroke="#22cc66" stroke-width="4.2"/><line x1="2153.8" y1="229.8" x2="2182.1" y2="223.6" stroke="#ff6464" stroke-width="4.2"/><line x1="2182.1" y1="223.6" x2="2189.0" y2="201.3" stroke="#ff6464" stroke-width="4.2"/><line x1="2189.0" y1="201.3" x2="2195.9" y2="179.1" stroke="#ff8080" stroke-width="4.2"/><line x1="2182.1" y1="223.6" x2="2200.6" y2="245.1" stroke="#ff6464" stroke-width="4.2"/><line x1="2200.6" y1="245.1" x2="2219.0" y2="266.6" stroke="#a8a8a8" stroke-width="4.2"/><line x1="2219.0" y1="266.6" x2="2241.2" y2="262.8" stroke="#a8a8a8" stroke-width="4.2"/><line x1="2241.2" y1="262.8" x2="2263.4" y2="258.9" stroke="#d4d4d4" stroke-width="4.2"/><line x1="2219.0" y1="266.6" x2="2212.8" y2="294.2" stroke="#a8a8a8" stroke-width="4.2"/><line x1="2212.8" y1="294.2" x2="2206.7" y2="321.8" stroke="#22b0a0" stroke-width="4.2"/><line x1="2110.0" y1="291.1" x2="2087.8" y2="298.0" stroke="#22cc66" stroke-width="4.2"/><line x1="2087.8" y1="298.0" x2="2065.6" y2="304.9" stroke="#d4d4d4" stroke-width="4.2"/><line x1="2110.0" y1="291.1" x2="2130.8" y2="311.8" stroke="#22cc66" stroke-width="4.2"/><line x1="2130.8" y1="311.8" x2="2151.5" y2="332.5" stroke="#ff6464" stroke-width="4.2"/><line x1="2151.5" y1="332.5" x2="2179.1" y2="327.1" stroke="#ff6464" stroke-width="4.2"/><line x1="2179.1" y1="327.1" x2="2206.7" y2="321.8" stroke="#22b0a0" stroke-width="4.2"/><line x1="2151.5" y1="332.5" x2="2145.3" y2="362.4" stroke="#ff6464" stroke-width="4.2"/><line x1="2145.3" y1="362.4" x2="2139.2" y2="392.3" stroke="#ff6464" stroke-width="4.2"/><line x1="2139.2" y1="392.3" x2="2113.9" y2="403.8" stroke="#ff6464" stroke-width="4.2"/><line x1="2113.9" y1="403.8" x2="2088.6" y2="415.3" stroke="#22b0a0" stroke-width="4.2"/><line x1="2139.2" y1="392.3" x2="2158.3" y2="412.2" stroke="#ff6464" stroke-width="4.2"/><line x1="2158.3" y1="412.2" x2="2177.5" y2="432.2" stroke="#22b0a0" stroke-width="4.2"/><line x1="2019.6" y1="412.3" x2="2001.9" y2="422.2" stroke="#d4d4d4" stroke-width="4.2"/><line x1="2001.9" y1="422.2" x2="1984.3" y2="432.2" stroke="#ff4040" stroke-width="4.2"/><line x1="1984.3" y1="432.2" x2="1989.7" y2="459.8" stroke="#ff4040" stroke-width="4.2"/><line x1="1989.7" y1="459.8" x2="1995.0" y2="487.4" stroke="#a8a8a8" stroke-width="4.2"/><line x1="2088.6" y1="415.3" x2="2093.2" y2="444.5" stroke="#22b0a0" stroke-width="4.2"/><line x1="2093.2" y1="444.5" x2="2097.8" y2="473.6" stroke="#ff6464" stroke-width="4.2"/><line x1="2097.8" y1="473.6" x2="2125.4" y2="478.2" stroke="#ff6464" stroke-width="4.2"/><line x1="2125.4" y1="478.2" x2="2153.0" y2="482.8" stroke="#ff6464" stroke-width="4.2"/><line x1="2177.5" y1="432.2" x2="2165.2" y2="457.5" stroke="#22b0a0" stroke-width="4.2"/><line x1="2165.2" y1="457.5" x2="2153.0" y2="482.8" stroke="#ff6464" stroke-width="4.2"/><line x1="2153.0" y1="482.8" x2="2169.8" y2="508.1" stroke="#ff6464" stroke-width="4.2"/><line x1="2169.8" y1="508.1" x2="2186.7" y2="533.4" stroke="#a8a8a8" stroke-width="4.2"/><line x1="2186.7" y1="533.4" x2="2207.4" y2="528.0" stroke="#a8a8a8" stroke-width="4.2"/><line x1="2207.4" y1="528.0" x2="2228.2" y2="522.7" stroke="#d4d4d4" stroke-width="4.2"/><line x1="2186.7" y1="533.4" x2="2176.8" y2="541.8" stroke="#a8a8a8" stroke-width="4.2"/><line x1="2176.8" y1="541.8" x2="2166.8" y2="550.3" stroke="#d4d4d4" stroke-width="4.2"/><line x1="2186.7" y1="533.4" x2="2188.2" y2="551.0" stroke="#a8a8a8" stroke-width="4.2"/><line x1="2188.2" y1="551.0" x2="2189.8" y2="568.7" stroke="#d4d4d4" stroke-width="4.2"/><line x1="2097.8" y1="473.6" x2="2073.2" y2="491.2" stroke="#ff6464" stroke-width="4.2"/><line x1="2073.2" y1="491.2" x2="2048.7" y2="508.9" stroke="#a8a8a8" stroke-width="4.2"/><line x1="2048.7" y1="508.9" x2="2021.8" y2="498.1" stroke="#a8a8a8" stroke-width="4.2"/><line x1="2021.8" y1="498.1" x2="1995.0" y2="487.4" stroke="#a8a8a8" stroke-width="4.2"/><line x1="1995.0" y1="487.4" x2="1972.0" y2="505.1" stroke="#a8a8a8" stroke-width="4.2"/><line x1="1972.0" y1="505.1" x2="1949.0" y2="522.7" stroke="#a8a8a8" stroke-width="4.2"/><line x1="1949.0" y1="522.7" x2="1929.0" y2="514.2" stroke="#a8a8a8" stroke-width="4.2"/><line x1="1929.0" y1="514.2" x2="1909.1" y2="505.8" stroke="#d4d4d4" stroke-width="4.2"/><line x1="1949.0" y1="522.7" x2="1952.8" y2="551.9" stroke="#a8a8a8" stroke-width="4.2"/><line x1="1952.8" y1="551.9" x2="1956.7" y2="581.0" stroke="#ff6464" stroke-width="4.2"/><line x1="1956.7" y1="581.0" x2="1938.3" y2="594.8" stroke="#ff6464" stroke-width="4.2"/><line x1="1938.3" y1="594.8" x2="1919.9" y2="608.6" stroke="#d4d4d4" stroke-width="4.2"/><line x1="1956.7" y1="581.0" x2="1982.8" y2="592.5" stroke="#ff6464" stroke-width="4.2"/><line x1="1982.8" y1="592.5" x2="2008.8" y2="604.0" stroke="#a8a8a8" stroke-width="4.2"/><line x1="2008.8" y1="604.0" x2="2031.8" y2="586.4" stroke="#a8a8a8" stroke-width="4.2"/><line x1="2031.8" y1="586.4" x2="2054.8" y2="568.7" stroke="#22cc66" stroke-width="4.2"/><line x1="2008.8" y1="604.0" x2="2012.7" y2="626.2" stroke="#a8a8a8" stroke-width="4.2"/><line x1="2012.7" y1="626.2" x2="2016.5" y2="648.5" stroke="#d4d4d4" stroke-width="4.2"/><line x1="2054.8" y1="568.7" x2="2051.8" y2="538.8" stroke="#22cc66" stroke-width="4.2"/><line x1="2051.8" y1="538.8" x2="2048.7" y2="508.9" stroke="#a8a8a8" stroke-width="4.2"/><line x1="2054.8" y1="568.7" x2="2075.6" y2="577.9" stroke="#22cc66" stroke-width="4.2"/><line x1="2075.6" y1="577.9" x2="2096.3" y2="587.1" stroke="#d4d4d4" stroke-width="4.2"/><line x1="2177.5" y1="432.2" x2="2207.9" y2="428.0" stroke="#22b0a0" stroke-width="4.2"/><line x1="2207.9" y1="428.0" x2="2238.2" y2="423.8" stroke="#ff4040" stroke-width="4.2"/><line x1="2238.2" y1="423.8" x2="2238.1" y2="403.7" stroke="#ff4040" stroke-width="4.2"/><line x1="2238.1" y1="403.7" x2="2238.0" y2="383.5" stroke="#d4d4d4" stroke-width="4.2"/><circle cx="2195.9" cy="179.1" r="9" fill="url(#gR)" opacity="0.35"/><circle cx="2091.7" cy="203.7" r="8.5" fill="url(#gH)" opacity="0.35"/><circle cx="2125.4" cy="235.9" r="12" fill="url(#gG)"/><circle cx="2182.1" cy="223.6" r="12" fill="url(#gR)"/><circle cx="2219.0" cy="266.6" r="12" fill="url(#gC)"/><circle cx="2263.4" cy="258.9" r="8.5" fill="url(#gH)"/><circle cx="2110.0" cy="291.1" r="12" fill="url(#gG)"/><circle cx="2065.6" cy="304.9" r="8.5" fill="url(#gH)"/><circle cx="2151.5" cy="332.5" r="12" fill="url(#gR)"/><circle cx="2206.7" cy="321.8" r="12" fill="url(#gT)"/><circle cx="2139.2" cy="392.3" r="12" fill="url(#gR)"/><circle cx="2088.6" cy="415.3" r="12" fill="url(#gT)"/><circle cx="2019.6" cy="412.3" r="8.5" fill="url(#gH)"/><circle cx="1984.3" cy="432.2" r="11" fill="url(#gO)"/><circle cx="2177.5" cy="432.2" r="12" fill="url(#gT)"/><circle cx="2097.8" cy="473.6" r="12" fill="url(#gR)"/><circle cx="2153.0" cy="482.8" r="12" fill="url(#gR)"/><circle cx="1995.0" cy="487.4" r="12" fill="url(#gC)"/><circle cx="2048.7" cy="508.9" r="12" fill="url(#gC)"/><circle cx="1909.1" cy="505.8" r="8.5" fill="url(#gH)"/><circle cx="1949.0" cy="522.7" r="12" fill="url(#gC)"/><circle cx="2186.7" cy="533.4" r="12" fill="url(#gC)"/><circle cx="2228.2" cy="522.7" r="8.5" fill="url(#gH)"/><circle cx="2166.8" cy="550.3" r="8.5" fill="url(#gH)"/><circle cx="2189.8" cy="568.7" r="8.5" fill="url(#gH)"/><circle cx="2054.8" cy="568.7" r="12" fill="url(#gG)"/><circle cx="2096.3" cy="587.1" r="8.5" fill="url(#gH)"/><circle cx="1956.7" cy="581.0" r="12" fill="url(#gR)"/><circle cx="1919.9" cy="608.6" r="8.5" fill="url(#gH)"/><circle cx="2008.8" cy="604.0" r="12" fill="url(#gC)"/><circle cx="2016.5" cy="648.5" r="8.5" fill="url(#gH)"/><circle cx="2238.2" cy="423.8" r="11" fill="url(#gO)"/><circle cx="2238.0" cy="383.5" r="8.5" fill="url(#gH)"/></g>
<g fill="none" stroke-width="9.2" stroke-linecap="round" stroke-linejoin="miter">
<path d="M1825,345.2H1988" stroke="#ff0000" stroke-linecap="butt"/>
<path d="M1963,329.5L1987,345.2L1963,360.9" stroke="#ff0000"/>
<path d="M1825,942.2H1988" stroke="#0000ff" stroke-linecap="butt"/>
<path d="M1963,926.5L1987,942.2L1963,957.9" stroke="#0000ff"/>
</g>
<text transform="translate(270.30,1671.70) scale(1.0000,1.0250)" font-family="'Liberation Sans', Arial, Helvetica, sans-serif" font-size="83.6" text-anchor="end" fill="#000">0.0</text>
<text transform="translate(270.30,1297.12) scale(1.0000,1.0250)" font-family="'Liberation Sans', Arial, Helvetica, sans-serif" font-size="83.6" text-anchor="end" fill="#000">0.2</text>
<text transform="translate(270.30,922.54) scale(1.0000,1.0250)" font-family="'Liberation Sans', Arial, Helvetica, sans-serif" font-size="83.6" text-anchor="end" fill="#000">0.4</text>
<text transform="translate(270.30,547.96) scale(1.0000,1.0250)" font-family="'Liberation Sans', Arial, Helvetica, sans-serif" font-size="83.6" text-anchor="end" fill="#000">0.6</text>
<text transform="translate(270.30,173.38) scale(1.0000,1.0250)" font-family="'Liberation Sans', Arial, Helvetica, sans-serif" font-size="83.6" text-anchor="end" fill="#000">0.8</text>
<text transform="translate(533.50,1763.80) scale(1.0000,1.0250)" font-family="'Liberation Sans', Arial, Helvetica, sans-serif" font-size="83.6" text-anchor="middle" fill="#000">250</text>
<text transform="translate(886.75,1763.80) scale(1.0000,1.0250)" font-family="'Liberation Sans', Arial, Helvetica, sans-serif" font-size="83.6" text-anchor="middle" fill="#000">300</text>
<text transform="translate(1240.00,1763.80) scale(1.0000,1.0250)" font-family="'Liberation Sans', Arial, Helvetica, sans-serif" font-size="83.6" text-anchor="middle" fill="#000">350</text>
<text transform="translate(1593.25,1763.80) scale(1.0000,1.0250)" font-family="'Liberation Sans', Arial, Helvetica, sans-serif" font-size="83.6" text-anchor="middle" fill="#000">400</text>
<text transform="translate(1946.50,1763.80) scale(1.0000,1.0250)" font-family="'Liberation Sans', Arial, Helvetica, sans-serif" font-size="83.6" text-anchor="middle" fill="#000">450</text>
<text transform="translate(2299.75,1763.80) scale(1.0000,1.0250)" font-family="'Liberation Sans', Arial, Helvetica, sans-serif" font-size="83.6" text-anchor="middle" fill="#000">500</text>
<text transform="translate(985.00,1880.80) scale(1.0000,1.0400)" font-family="'Liberation Sans', Arial, Helvetica, sans-serif" font-size="91.4" fill="#000">Wavelength, nm</text>
<text transform="translate(91.30,1598.60) rotate(-90) scale(1.0000,1.0400)" font-family="'Liberation Sans', Arial, Helvetica, sans-serif" font-size="90.9" fill="#000">Relative intensity / Oscillator strength</text>
<text transform="translate(839.20,359.80) scale(0.9740,1.0300)" font-family="'Liberation Sans', Arial, Helvetica, sans-serif" font-size="100.6" font-weight="bold" fill="#ff0000">L</text>
<text transform="translate(899.90,317.80) scale(0.9480,1.0410)" font-family="'Liberation Sans', Arial, Helvetica, sans-serif" font-size="69.5" font-weight="bold" fill="#ff0000">H,OH</text>
<text transform="translate(1092.80,255.20) scale(0.9600,1.0300)" font-family="'Liberation Sans', Arial, Helvetica, sans-serif" font-size="100.6" font-weight="bold" fill="#0000ff">L</text>
<text transform="translate(1151.50,215.00) scale(0.9550,1.0230)" font-family="'Liberation Sans', Arial, Helvetica, sans-serif" font-size="69.5" font-weight="bold" fill="#0000ff">OH,OH</text>
<text transform="translate(1542.80,1344.60) scale(1.0420,1.0000)" font-family="'Liberation Sans', Arial, Helvetica, sans-serif" font-size="58.1" font-weight="bold" fill="#808080">HOMO</text>
<text transform="translate(2026.20,1344.60) scale(0.9940,1.0000)" font-family="'Liberation Sans', Arial, Helvetica, sans-serif" font-size="58.1" font-weight="bold" fill="#808080">LUMO</text>
</svg></body></html>
